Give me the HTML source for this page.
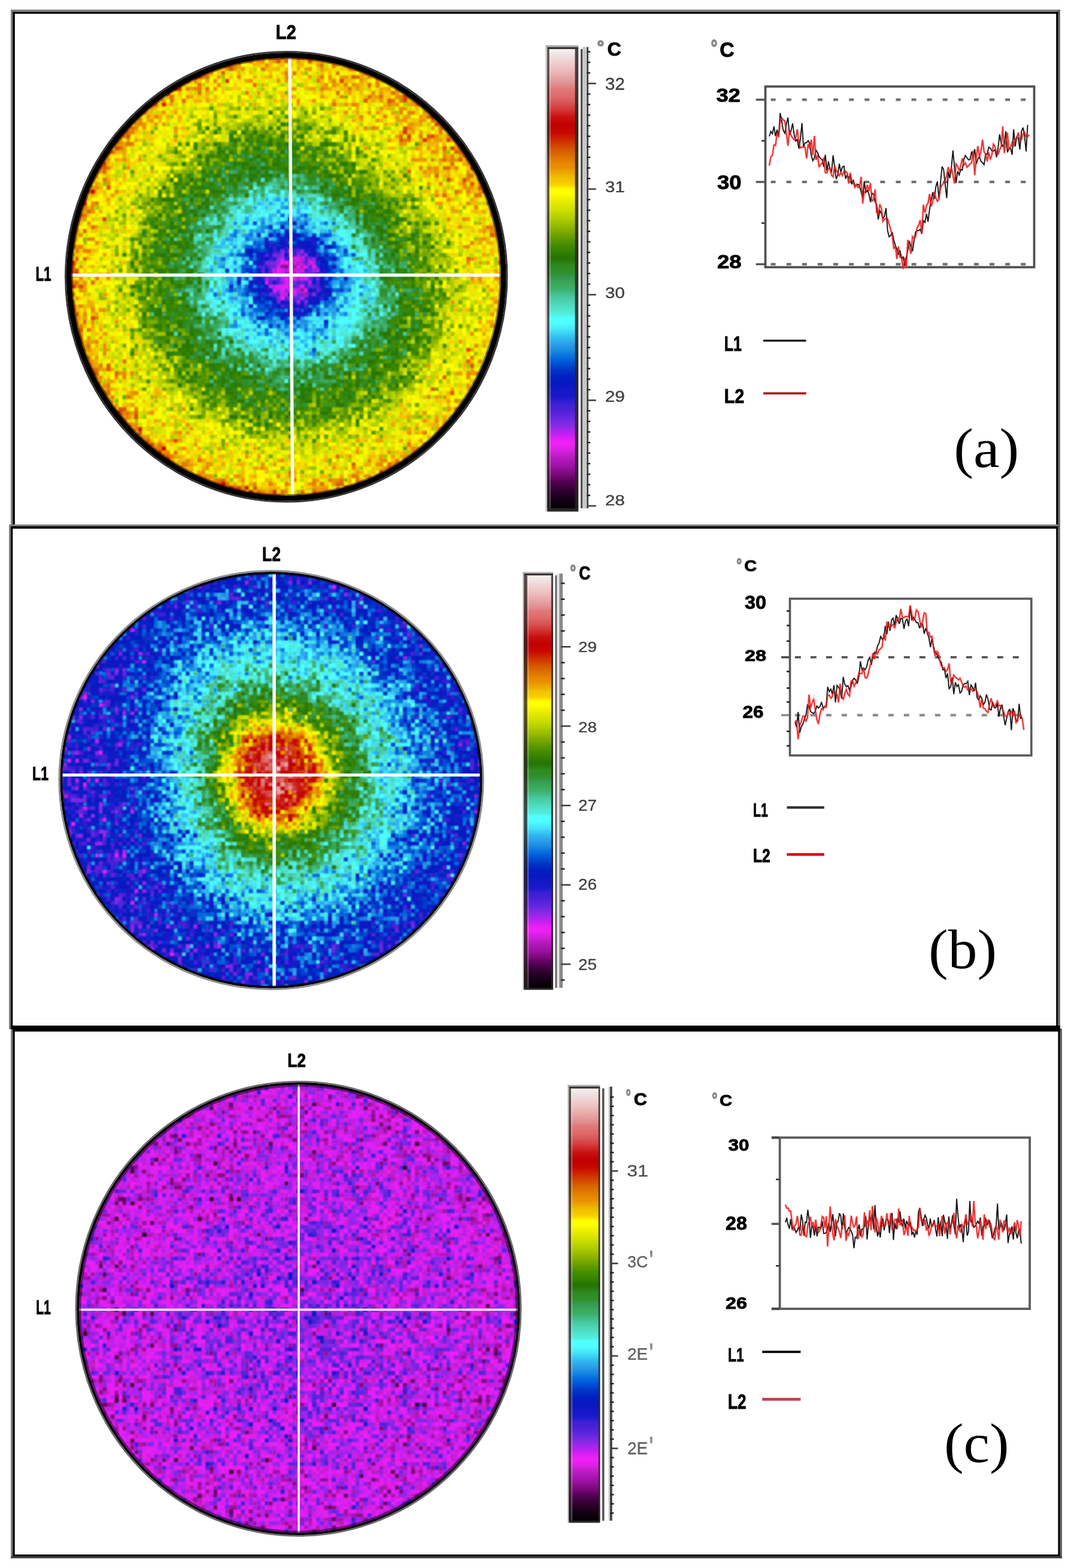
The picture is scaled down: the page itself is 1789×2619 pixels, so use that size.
<!DOCTYPE html>
<html><head><meta charset="utf-8"><title>Thermal profiles</title><style>
html,body{margin:0;padding:0;background:#fff;}
body{width:1789px;height:2619px;overflow:hidden;position:relative;}
svg{position:absolute;left:0;top:0;display:block;}
.s{font-family:"Liberation Sans",Arial,sans-serif;}
.b{font-family:"Liberation Sans",Arial,sans-serif;font-weight:bold;stroke:#000;stroke-width:0.9px;}
.g{stroke-width:1.6px;}
.s{stroke-width:0.35px;}
.r{font-family:"Liberation Serif","Times New Roman",serif;}
</style></head><body>
<svg width="1789" height="2619" viewBox="0 0 1789 2619">
<defs>
<radialGradient id="gA" gradientUnits="userSpaceOnUse" cx="486.5" cy="459.6" r="372.0"><stop offset="0.000" stop-color="rgb(32,0,0)"/><stop offset="0.060" stop-color="rgb(38,0,0)"/><stop offset="0.110" stop-color="rgb(51,0,0)"/><stop offset="0.170" stop-color="rgb(75,0,0)"/><stop offset="0.230" stop-color="rgb(89,0,0)"/><stop offset="0.300" stop-color="rgb(100,0,0)"/><stop offset="0.370" stop-color="rgb(110,0,0)"/><stop offset="0.420" stop-color="rgb(122,0,0)"/><stop offset="0.480" stop-color="rgb(132,0,0)"/><stop offset="0.550" stop-color="rgb(139,0,0)"/><stop offset="0.620" stop-color="rgb(145,0,0)"/><stop offset="0.680" stop-color="rgb(153,0,0)"/><stop offset="0.740" stop-color="rgb(164,0,0)"/><stop offset="0.820" stop-color="rgb(171,0,0)"/><stop offset="0.900" stop-color="rgb(176,0,0)"/><stop offset="0.950" stop-color="rgb(180,0,0)"/><stop offset="0.980" stop-color="rgb(189,0,0)"/><stop offset="1.000" stop-color="rgb(198,0,0)"/></radialGradient>
<radialGradient id="bA0" gradientUnits="userSpaceOnUse" cx="760.0" cy="170.0" r="330.0"><stop offset="0" stop-color="rgb(195,0,0)" stop-opacity="0.50"/><stop offset="0.5" stop-color="rgb(195,0,0)" stop-opacity="0.30"/><stop offset="1" stop-color="rgb(195,0,0)" stop-opacity="0"/></radialGradient>
<radialGradient id="cA" gradientUnits="userSpaceOnUse" cx="486.5" cy="459.6" r="372.0"><stop offset="0.000" stop-color="#d420dc"/><stop offset="0.060" stop-color="#e820f7"/><stop offset="0.110" stop-color="#6126de"/><stop offset="0.170" stop-color="#002ac3"/><stop offset="0.230" stop-color="#2494e6"/><stop offset="0.300" stop-color="#47e9fa"/><stop offset="0.370" stop-color="#50e4ce"/><stop offset="0.420" stop-color="#3cb071"/><stop offset="0.480" stop-color="#308f2b"/><stop offset="0.550" stop-color="#277300"/><stop offset="0.620" stop-color="#3f8900"/><stop offset="0.680" stop-color="#75a700"/><stop offset="0.740" stop-color="#c6da00"/><stop offset="0.820" stop-color="#eef100"/><stop offset="0.900" stop-color="#ffff00"/><stop offset="0.950" stop-color="#f7ce00"/><stop offset="0.980" stop-color="#e89100"/><stop offset="1.000" stop-color="#d76000"/></radialGradient>
<filter id="fA" x="106" y="83" width="744" height="758" filterUnits="userSpaceOnUse" color-interpolation-filters="sRGB"><feColorMatrix type="matrix" values="1 0.1622 0.1622 0 -0.1628 1 0.1622 0.1622 0 -0.1628 1 0.1622 0.1622 0 -0.1628 0 0 0 1 0" result="sum"/><feComponentTransfer in="sum"><feFuncR type="table" tableValues="0.000 0.042 0.071 0.103 0.147 0.191 0.249 0.307 0.378 0.451 0.516 0.577 0.626 0.670 0.721 0.780 0.841 0.909 0.932 0.890 0.803 0.716 0.629 0.545 0.473 0.403 0.360 0.316 0.272 0.229 0.160 0.094 0.094 0.065 0.036 0.019 0.005 0.000 0.000 0.000 0.000 0.010 0.031 0.075 0.120 0.159 0.174 0.189 0.225 0.261 0.285 0.307 0.314 0.314 0.314 0.314 0.308 0.298 0.287 0.270 0.248 0.233 0.229 0.218 0.203 0.189 0.184 0.181 0.167 0.152 0.169 0.199 0.237 0.280 0.336 0.396 0.458 0.517 0.575 0.629 0.680 0.730 0.781 0.830 0.873 0.917 0.958 1.000 1.000 0.984 0.964 0.947 0.934 0.923 0.912 0.910 0.893 0.871 0.848 0.837 0.827 0.815 0.804 0.793 0.781 0.766 0.754 0.769 0.783 0.805 0.827 0.847 0.847 0.861 0.878 0.878 0.878 0.878 0.888 0.902 0.915 0.926 0.935 0.939 0.941 0.941 0.955 0.973"/><feFuncG type="table" tableValues="0.000 0.000 0.000 0.000 0.000 0.000 0.000 0.000 0.013 0.027 0.043 0.058 0.073 0.087 0.102 0.116 0.125 0.125 0.125 0.125 0.125 0.132 0.146 0.157 0.157 0.155 0.141 0.126 0.125 0.125 0.110 0.094 0.094 0.094 0.094 0.106 0.121 0.155 0.199 0.252 0.313 0.375 0.437 0.504 0.559 0.606 0.664 0.722 0.795 0.868 0.926 0.983 1.000 0.980 0.928 0.895 0.862 0.830 0.798 0.759 0.715 0.682 0.663 0.624 0.594 0.565 0.553 0.542 0.500 0.456 0.478 0.510 0.532 0.556 0.587 0.619 0.652 0.688 0.724 0.761 0.797 0.830 0.859 0.885 0.907 0.931 0.966 1.000 1.000 0.890 0.799 0.764 0.708 0.642 0.576 0.541 0.500 0.455 0.410 0.349 0.285 0.217 0.150 0.083 0.028 0.013 0.002 0.031 0.061 0.125 0.192 0.259 0.321 0.372 0.414 0.443 0.474 0.541 0.593 0.637 0.680 0.724 0.765 0.800 0.835 0.871 0.906 0.941"/><feFuncB type="table" tableValues="0.000 0.042 0.071 0.103 0.147 0.191 0.249 0.307 0.378 0.451 0.527 0.604 0.658 0.701 0.753 0.811 0.873 0.940 0.963 0.964 0.950 0.935 0.920 0.906 0.891 0.877 0.862 0.848 0.840 0.833 0.816 0.798 0.784 0.770 0.755 0.753 0.753 0.763 0.777 0.800 0.831 0.857 0.878 0.878 0.891 0.912 0.927 0.941 0.956 0.970 0.983 0.996 1.000 0.960 0.858 0.809 0.757 0.704 0.650 0.577 0.490 0.407 0.331 0.364 0.273 0.183 0.154 0.127 0.071 0.012 0.000 0.000 0.000 0.000 0.000 0.000 0.000 0.000 0.000 0.000 0.000 0.000 0.000 0.000 0.000 0.000 0.000 0.000 0.000 0.000 0.000 0.000 0.000 0.000 0.000 0.000 0.000 0.000 0.000 0.000 0.000 0.000 0.000 0.000 0.000 0.000 0.002 0.031 0.061 0.125 0.192 0.259 0.321 0.372 0.414 0.443 0.474 0.541 0.593 0.637 0.680 0.724 0.765 0.800 0.835 0.871 0.906 0.941"/></feComponentTransfer><feGaussianBlur stdDeviation="1.2"/></filter>
<radialGradient id="gB" gradientUnits="userSpaceOnUse" cx="458.0" cy="1294.5" r="353.0"><stop offset="0.000" stop-color="rgb(228,0,0)"/><stop offset="0.080" stop-color="rgb(223,0,0)"/><stop offset="0.160" stop-color="rgb(206,0,0)"/><stop offset="0.200" stop-color="rgb(193,0,0)"/><stop offset="0.250" stop-color="rgb(172,0,0)"/><stop offset="0.300" stop-color="rgb(152,0,0)"/><stop offset="0.360" stop-color="rgb(137,0,0)"/><stop offset="0.440" stop-color="rgb(120,0,0)"/><stop offset="0.500" stop-color="rgb(110,0,0)"/><stop offset="0.570" stop-color="rgb(103,0,0)"/><stop offset="0.640" stop-color="rgb(94,0,0)"/><stop offset="0.720" stop-color="rgb(84,0,0)"/><stop offset="0.820" stop-color="rgb(76,0,0)"/><stop offset="0.900" stop-color="rgb(72,0,0)"/><stop offset="1.000" stop-color="rgb(68,0,0)"/></radialGradient>
<radialGradient id="bB0" gradientUnits="userSpaceOnUse" cx="110.0" cy="1330.0" r="320.0"><stop offset="0" stop-color="rgb(51,0,0)" stop-opacity="0.60"/><stop offset="0.5" stop-color="rgb(51,0,0)" stop-opacity="0.36"/><stop offset="1" stop-color="rgb(51,0,0)" stop-opacity="0"/></radialGradient>
<radialGradient id="bB1" gradientUnits="userSpaceOnUse" cx="250.0" cy="1620.0" r="220.0"><stop offset="0" stop-color="rgb(56,0,0)" stop-opacity="0.40"/><stop offset="0.5" stop-color="rgb(56,0,0)" stop-opacity="0.24"/><stop offset="1" stop-color="rgb(56,0,0)" stop-opacity="0"/></radialGradient>
<radialGradient id="cB" gradientUnits="userSpaceOnUse" cx="458.0" cy="1294.5" r="353.0"><stop offset="0.000" stop-color="#e06767"/><stop offset="0.080" stop-color="#d84747"/><stop offset="0.160" stop-color="#cb1a00"/><stop offset="0.200" stop-color="#e48100"/><stop offset="0.250" stop-color="#f0f300"/><stop offset="0.300" stop-color="#72a500"/><stop offset="0.360" stop-color="#297a0b"/><stop offset="0.440" stop-color="#40b87f"/><stop offset="0.500" stop-color="#50e4ce"/><stop offset="0.570" stop-color="#50ffff"/><stop offset="0.640" stop-color="#30b7f0"/><stop offset="0.720" stop-color="#0870e0"/><stop offset="0.820" stop-color="#0031c6"/><stop offset="0.900" stop-color="#021ec0"/><stop offset="1.000" stop-color="#0b18c2"/></radialGradient>
<filter id="fB" x="96" y="950" width="715" height="706" filterUnits="userSpaceOnUse" color-interpolation-filters="sRGB"><feColorMatrix type="matrix" values="1 0.2027 0.2027 0 -0.2035 1 0.2027 0.2027 0 -0.2035 1 0.2027 0.2027 0 -0.2035 0 0 0 1 0" result="sum"/><feComponentTransfer in="sum"><feFuncR type="table" tableValues="0.000 0.042 0.071 0.103 0.147 0.191 0.249 0.307 0.378 0.451 0.516 0.577 0.626 0.670 0.721 0.780 0.841 0.909 0.932 0.890 0.803 0.716 0.629 0.545 0.473 0.403 0.360 0.316 0.272 0.229 0.160 0.094 0.094 0.065 0.036 0.019 0.005 0.000 0.000 0.000 0.000 0.010 0.031 0.075 0.120 0.159 0.174 0.189 0.225 0.261 0.285 0.307 0.314 0.314 0.314 0.314 0.308 0.298 0.287 0.270 0.248 0.233 0.229 0.218 0.203 0.189 0.184 0.181 0.167 0.152 0.169 0.199 0.237 0.280 0.336 0.396 0.458 0.517 0.575 0.629 0.680 0.730 0.781 0.830 0.873 0.917 0.958 1.000 1.000 0.984 0.964 0.947 0.934 0.923 0.912 0.910 0.893 0.871 0.848 0.837 0.827 0.815 0.804 0.793 0.781 0.766 0.754 0.769 0.783 0.805 0.827 0.847 0.847 0.861 0.878 0.878 0.878 0.878 0.888 0.902 0.915 0.926 0.935 0.939 0.941 0.941 0.955 0.973"/><feFuncG type="table" tableValues="0.000 0.000 0.000 0.000 0.000 0.000 0.000 0.000 0.013 0.027 0.043 0.058 0.073 0.087 0.102 0.116 0.125 0.125 0.125 0.125 0.125 0.132 0.146 0.157 0.157 0.155 0.141 0.126 0.125 0.125 0.110 0.094 0.094 0.094 0.094 0.106 0.121 0.155 0.199 0.252 0.313 0.375 0.437 0.504 0.559 0.606 0.664 0.722 0.795 0.868 0.926 0.983 1.000 0.980 0.928 0.895 0.862 0.830 0.798 0.759 0.715 0.682 0.663 0.624 0.594 0.565 0.553 0.542 0.500 0.456 0.478 0.510 0.532 0.556 0.587 0.619 0.652 0.688 0.724 0.761 0.797 0.830 0.859 0.885 0.907 0.931 0.966 1.000 1.000 0.890 0.799 0.764 0.708 0.642 0.576 0.541 0.500 0.455 0.410 0.349 0.285 0.217 0.150 0.083 0.028 0.013 0.002 0.031 0.061 0.125 0.192 0.259 0.321 0.372 0.414 0.443 0.474 0.541 0.593 0.637 0.680 0.724 0.765 0.800 0.835 0.871 0.906 0.941"/><feFuncB type="table" tableValues="0.000 0.042 0.071 0.103 0.147 0.191 0.249 0.307 0.378 0.451 0.527 0.604 0.658 0.701 0.753 0.811 0.873 0.940 0.963 0.964 0.950 0.935 0.920 0.906 0.891 0.877 0.862 0.848 0.840 0.833 0.816 0.798 0.784 0.770 0.755 0.753 0.753 0.763 0.777 0.800 0.831 0.857 0.878 0.878 0.891 0.912 0.927 0.941 0.956 0.970 0.983 0.996 1.000 0.960 0.858 0.809 0.757 0.704 0.650 0.577 0.490 0.407 0.331 0.364 0.273 0.183 0.154 0.127 0.071 0.012 0.000 0.000 0.000 0.000 0.000 0.000 0.000 0.000 0.000 0.000 0.000 0.000 0.000 0.000 0.000 0.000 0.000 0.000 0.000 0.000 0.000 0.000 0.000 0.000 0.000 0.000 0.000 0.000 0.000 0.000 0.000 0.000 0.000 0.000 0.000 0.000 0.002 0.031 0.061 0.125 0.192 0.259 0.321 0.372 0.414 0.443 0.474 0.541 0.593 0.637 0.680 0.724 0.765 0.800 0.835 0.871 0.906 0.941"/></feComponentTransfer><feGaussianBlur stdDeviation="1.2"/></filter>
<radialGradient id="gC" gradientUnits="userSpaceOnUse" cx="499.0" cy="2187.5" r="376.0"><stop offset="0.000" stop-color="rgb(44,0,0)"/><stop offset="0.300" stop-color="rgb(43,0,0)"/><stop offset="0.550" stop-color="rgb(40,0,0)"/><stop offset="0.800" stop-color="rgb(37,0,0)"/><stop offset="1.000" stop-color="rgb(36,0,0)"/></radialGradient>
<radialGradient id="bC0" gradientUnits="userSpaceOnUse" cx="300.0" cy="1930.0" r="200.0"><stop offset="0" stop-color="rgb(32,0,0)" stop-opacity="0.40"/><stop offset="0.5" stop-color="rgb(32,0,0)" stop-opacity="0.24"/><stop offset="1" stop-color="rgb(32,0,0)" stop-opacity="0"/></radialGradient>
<radialGradient id="bC1" gradientUnits="userSpaceOnUse" cx="760.0" cy="2420.0" r="160.0"><stop offset="0" stop-color="rgb(33,0,0)" stop-opacity="0.30"/><stop offset="0.5" stop-color="rgb(33,0,0)" stop-opacity="0.18"/><stop offset="1" stop-color="rgb(33,0,0)" stop-opacity="0"/></radialGradient>
<radialGradient id="cC" gradientUnits="userSpaceOnUse" cx="499.0" cy="2187.5" r="376.0"><stop offset="0.000" stop-color="#9f26ea"/><stop offset="0.300" stop-color="#b122ee"/><stop offset="0.550" stop-color="#cf20f3"/><stop offset="0.800" stop-color="#ee20f8"/><stop offset="1.000" stop-color="#ee20f6"/></radialGradient>
<filter id="fC" x="124" y="1803" width="750" height="766" filterUnits="userSpaceOnUse" color-interpolation-filters="sRGB"><feColorMatrix type="matrix" values="1 0.1622 0.1622 0 -0.1628 1 0.1622 0.1622 0 -0.1628 1 0.1622 0.1622 0 -0.1628 0 0 0 1 0" result="sum"/><feComponentTransfer in="sum"><feFuncR type="table" tableValues="0.000 0.042 0.071 0.103 0.147 0.191 0.249 0.307 0.378 0.451 0.516 0.577 0.626 0.670 0.721 0.780 0.841 0.909 0.932 0.890 0.803 0.716 0.629 0.545 0.473 0.403 0.360 0.316 0.272 0.229 0.160 0.094 0.094 0.065 0.036 0.019 0.005 0.000 0.000 0.000 0.000 0.010 0.031 0.075 0.120 0.159 0.174 0.189 0.225 0.261 0.285 0.307 0.314 0.314 0.314 0.314 0.308 0.298 0.287 0.270 0.248 0.233 0.229 0.218 0.203 0.189 0.184 0.181 0.167 0.152 0.169 0.199 0.237 0.280 0.336 0.396 0.458 0.517 0.575 0.629 0.680 0.730 0.781 0.830 0.873 0.917 0.958 1.000 1.000 0.984 0.964 0.947 0.934 0.923 0.912 0.910 0.893 0.871 0.848 0.837 0.827 0.815 0.804 0.793 0.781 0.766 0.754 0.769 0.783 0.805 0.827 0.847 0.847 0.861 0.878 0.878 0.878 0.878 0.888 0.902 0.915 0.926 0.935 0.939 0.941 0.941 0.955 0.973"/><feFuncG type="table" tableValues="0.000 0.000 0.000 0.000 0.000 0.000 0.000 0.000 0.013 0.027 0.043 0.058 0.073 0.087 0.102 0.116 0.125 0.125 0.125 0.125 0.125 0.132 0.146 0.157 0.157 0.155 0.141 0.126 0.125 0.125 0.110 0.094 0.094 0.094 0.094 0.106 0.121 0.155 0.199 0.252 0.313 0.375 0.437 0.504 0.559 0.606 0.664 0.722 0.795 0.868 0.926 0.983 1.000 0.980 0.928 0.895 0.862 0.830 0.798 0.759 0.715 0.682 0.663 0.624 0.594 0.565 0.553 0.542 0.500 0.456 0.478 0.510 0.532 0.556 0.587 0.619 0.652 0.688 0.724 0.761 0.797 0.830 0.859 0.885 0.907 0.931 0.966 1.000 1.000 0.890 0.799 0.764 0.708 0.642 0.576 0.541 0.500 0.455 0.410 0.349 0.285 0.217 0.150 0.083 0.028 0.013 0.002 0.031 0.061 0.125 0.192 0.259 0.321 0.372 0.414 0.443 0.474 0.541 0.593 0.637 0.680 0.724 0.765 0.800 0.835 0.871 0.906 0.941"/><feFuncB type="table" tableValues="0.000 0.042 0.071 0.103 0.147 0.191 0.249 0.307 0.378 0.451 0.527 0.604 0.658 0.701 0.753 0.811 0.873 0.940 0.963 0.964 0.950 0.935 0.920 0.906 0.891 0.877 0.862 0.848 0.840 0.833 0.816 0.798 0.784 0.770 0.755 0.753 0.753 0.763 0.777 0.800 0.831 0.857 0.878 0.878 0.891 0.912 0.927 0.941 0.956 0.970 0.983 0.996 1.000 0.960 0.858 0.809 0.757 0.704 0.650 0.577 0.490 0.407 0.331 0.364 0.273 0.183 0.154 0.127 0.071 0.012 0.000 0.000 0.000 0.000 0.000 0.000 0.000 0.000 0.000 0.000 0.000 0.000 0.000 0.000 0.000 0.000 0.000 0.000 0.000 0.000 0.000 0.000 0.000 0.000 0.000 0.000 0.000 0.000 0.000 0.000 0.000 0.000 0.000 0.000 0.000 0.000 0.002 0.031 0.061 0.125 0.192 0.259 0.321 0.372 0.414 0.443 0.474 0.541 0.593 0.637 0.680 0.724 0.765 0.800 0.835 0.871 0.906 0.941"/></feComponentTransfer><feGaussianBlur stdDeviation="1.2"/></filter>
<pattern id="n1" width="151.8" height="151.8" patternUnits="userSpaceOnUse"><rect width="151.8" height="151.8" shape-rendering="crispEdges" fill="rgb(0,128,0)"/><path fill="rgb(0,28,0)" shape-rendering="crispEdges" d="M39.6,59.4h6.6v6.6h-6.6zM46.2,26.4h6.6v6.6h-6.6zM85.8,85.8h6.6v6.6h-6.6z"/><path fill="rgb(0,38,0)" shape-rendering="crispEdges" d="M52.8,33h6.6v6.6h-6.6zM66,125.4h6.6v6.6h-6.6zM79.2,26.4h6.6v6.6h-6.6zM99,66h6.6v6.6h-6.6zM138.6,92.4h6.6v6.6h-6.6z"/><path fill="rgb(0,48,0)" shape-rendering="crispEdges" d="M13.2,39.6h6.6v6.6h-6.6zM39.6,138.6h6.6v6.6h-6.6zM52.8,52.8h6.6v6.6h-6.6zM66,132h6.6v6.6h-6.6zM72.6,92.4h6.6v6.6h-6.6zM85.8,66h6.6v6.6h-6.6zM92.4,26.4h6.6v6.6h-6.6zM138.6,99h6.6v6.6h-6.6z"/><path fill="rgb(0,58,0)" shape-rendering="crispEdges" d="M13.2,138.6h6.6v6.6h-6.6zM19.8,0h6.6v6.6h-6.6zM46.2,145.2h6.6v6.6h-6.6zM66,33h6.6v6.6h-6.6zM66,138.6h6.6v6.6h-6.6zM79.2,39.6h6.6v6.6h-6.6zM85.8,39.6h6.6v6.6h-6.6zM85.8,105.6h6.6v6.6h-6.6zM105.6,112.2h6.6v6.6h-6.6zM118.8,66h6.6v6.6h-6.6zM138.6,6.6h6.6v6.6h-6.6z"/><path fill="rgb(0,68,0)" shape-rendering="crispEdges" d="M0,26.4h6.6v6.6h-6.6zM13.2,72.6h6.6v6.6h-6.6zM19.8,26.4h6.6v6.6h-6.6zM19.8,85.8h6.6v6.6h-6.6zM26.4,59.4h6.6v6.6h-6.6zM72.6,118.8h6.6v6.6h-6.6zM72.6,145.2h6.6v6.6h-6.6zM112.2,52.8h6.6v6.6h-6.6zM112.2,105.6h6.6v6.6h-6.6zM118.8,6.6h6.6v6.6h-6.6zM118.8,39.6h6.6v6.6h-6.6zM125.4,85.8h6.6v6.6h-6.6zM145.2,33h6.6v6.6h-6.6z"/><path fill="rgb(0,78,0)" shape-rendering="crispEdges" d="M6.6,26.4h6.6v6.6h-6.6zM6.6,59.4h6.6v6.6h-6.6zM26.4,52.8h6.6v6.6h-6.6zM26.4,66h6.6v6.6h-6.6zM26.4,105.6h6.6v6.6h-6.6zM26.4,118.8h6.6v6.6h-6.6zM33,66h6.6v6.6h-6.6zM46.2,132h6.6v6.6h-6.6zM52.8,59.4h6.6v6.6h-6.6zM52.8,66h6.6v6.6h-6.6zM52.8,118.8h6.6v6.6h-6.6zM66,99h6.6v6.6h-6.6zM79.2,19.8h6.6v6.6h-6.6zM85.8,79.2h6.6v6.6h-6.6zM85.8,132h6.6v6.6h-6.6zM92.4,6.6h6.6v6.6h-6.6zM105.6,59.4h6.6v6.6h-6.6zM112.2,19.8h6.6v6.6h-6.6zM125.4,26.4h6.6v6.6h-6.6zM125.4,138.6h6.6v6.6h-6.6zM132,72.6h6.6v6.6h-6.6zM132,118.8h6.6v6.6h-6.6zM145.2,6.6h6.6v6.6h-6.6zM145.2,85.8h6.6v6.6h-6.6z"/><path fill="rgb(0,88,0)" shape-rendering="crispEdges" d="M6.6,85.8h6.6v6.6h-6.6zM13.2,19.8h6.6v6.6h-6.6zM13.2,33h6.6v6.6h-6.6zM33,79.2h6.6v6.6h-6.6zM33,92.4h6.6v6.6h-6.6zM33,138.6h6.6v6.6h-6.6zM39.6,33h6.6v6.6h-6.6zM39.6,72.6h6.6v6.6h-6.6zM46.2,19.8h6.6v6.6h-6.6zM46.2,66h6.6v6.6h-6.6zM46.2,138.6h6.6v6.6h-6.6zM52.8,125.4h6.6v6.6h-6.6zM59.4,59.4h6.6v6.6h-6.6zM66,19.8h6.6v6.6h-6.6zM79.2,92.4h6.6v6.6h-6.6zM79.2,99h6.6v6.6h-6.6zM99,118.8h6.6v6.6h-6.6zM105.6,6.6h6.6v6.6h-6.6zM112.2,26.4h6.6v6.6h-6.6zM112.2,118.8h6.6v6.6h-6.6zM118.8,112.2h6.6v6.6h-6.6zM125.4,99h6.6v6.6h-6.6z"/><path fill="rgb(0,98,0)" shape-rendering="crispEdges" d="M0,105.6h6.6v6.6h-6.6zM0,118.8h6.6v6.6h-6.6zM0,145.2h6.6v6.6h-6.6zM6.6,19.8h6.6v6.6h-6.6zM6.6,39.6h6.6v6.6h-6.6zM6.6,46.2h6.6v6.6h-6.6zM13.2,26.4h6.6v6.6h-6.6zM13.2,52.8h6.6v6.6h-6.6zM13.2,112.2h6.6v6.6h-6.6zM19.8,39.6h6.6v6.6h-6.6zM26.4,85.8h6.6v6.6h-6.6zM33,46.2h6.6v6.6h-6.6zM33,59.4h6.6v6.6h-6.6zM33,85.8h6.6v6.6h-6.6zM33,112.2h6.6v6.6h-6.6zM33,132h6.6v6.6h-6.6zM39.6,46.2h6.6v6.6h-6.6zM39.6,105.6h6.6v6.6h-6.6zM46.2,39.6h6.6v6.6h-6.6zM52.8,39.6h6.6v6.6h-6.6zM52.8,85.8h6.6v6.6h-6.6zM59.4,92.4h6.6v6.6h-6.6zM59.4,132h6.6v6.6h-6.6zM66,92.4h6.6v6.6h-6.6zM66,112.2h6.6v6.6h-6.6zM72.6,26.4h6.6v6.6h-6.6zM79.2,85.8h6.6v6.6h-6.6zM85.8,26.4h6.6v6.6h-6.6zM92.4,13.2h6.6v6.6h-6.6zM92.4,33h6.6v6.6h-6.6zM99,85.8h6.6v6.6h-6.6zM99,99h6.6v6.6h-6.6zM105.6,105.6h6.6v6.6h-6.6zM105.6,145.2h6.6v6.6h-6.6zM112.2,13.2h6.6v6.6h-6.6zM112.2,92.4h6.6v6.6h-6.6zM118.8,79.2h6.6v6.6h-6.6zM125.4,6.6h6.6v6.6h-6.6zM125.4,92.4h6.6v6.6h-6.6zM125.4,118.8h6.6v6.6h-6.6zM132,145.2h6.6v6.6h-6.6zM138.6,118.8h6.6v6.6h-6.6zM145.2,19.8h6.6v6.6h-6.6zM145.2,79.2h6.6v6.6h-6.6zM145.2,99h6.6v6.6h-6.6zM145.2,132h6.6v6.6h-6.6z"/><path fill="rgb(0,108,0)" shape-rendering="crispEdges" d="M0,0h6.6v6.6h-6.6zM0,19.8h6.6v6.6h-6.6zM0,132h6.6v6.6h-6.6zM13.2,66h6.6v6.6h-6.6zM13.2,125.4h6.6v6.6h-6.6zM13.2,132h6.6v6.6h-6.6zM19.8,66h6.6v6.6h-6.6zM19.8,92.4h6.6v6.6h-6.6zM26.4,19.8h6.6v6.6h-6.6zM26.4,112.2h6.6v6.6h-6.6zM33,0h6.6v6.6h-6.6zM39.6,39.6h6.6v6.6h-6.6zM39.6,52.8h6.6v6.6h-6.6zM39.6,118.8h6.6v6.6h-6.6zM46.2,52.8h6.6v6.6h-6.6zM52.8,26.4h6.6v6.6h-6.6zM52.8,92.4h6.6v6.6h-6.6zM66,105.6h6.6v6.6h-6.6zM72.6,13.2h6.6v6.6h-6.6zM72.6,19.8h6.6v6.6h-6.6zM92.4,59.4h6.6v6.6h-6.6zM92.4,85.8h6.6v6.6h-6.6zM92.4,138.6h6.6v6.6h-6.6zM99,52.8h6.6v6.6h-6.6zM99,59.4h6.6v6.6h-6.6zM99,105.6h6.6v6.6h-6.6zM99,125.4h6.6v6.6h-6.6zM112.2,0h6.6v6.6h-6.6zM112.2,66h6.6v6.6h-6.6zM112.2,112.2h6.6v6.6h-6.6zM118.8,26.4h6.6v6.6h-6.6zM132,39.6h6.6v6.6h-6.6zM132,132h6.6v6.6h-6.6zM138.6,13.2h6.6v6.6h-6.6zM145.2,0h6.6v6.6h-6.6z"/><path fill="rgb(0,118,0)" shape-rendering="crispEdges" d="M0,6.6h6.6v6.6h-6.6zM0,52.8h6.6v6.6h-6.6zM6.6,92.4h6.6v6.6h-6.6zM13.2,13.2h6.6v6.6h-6.6zM19.8,52.8h6.6v6.6h-6.6zM19.8,72.6h6.6v6.6h-6.6zM19.8,99h6.6v6.6h-6.6zM19.8,112.2h6.6v6.6h-6.6zM26.4,92.4h6.6v6.6h-6.6zM26.4,132h6.6v6.6h-6.6zM33,72.6h6.6v6.6h-6.6zM39.6,85.8h6.6v6.6h-6.6zM39.6,125.4h6.6v6.6h-6.6zM46.2,6.6h6.6v6.6h-6.6zM46.2,59.4h6.6v6.6h-6.6zM46.2,125.4h6.6v6.6h-6.6zM52.8,0h6.6v6.6h-6.6zM59.4,19.8h6.6v6.6h-6.6zM59.4,105.6h6.6v6.6h-6.6zM72.6,0h6.6v6.6h-6.6zM72.6,6.6h6.6v6.6h-6.6zM72.6,39.6h6.6v6.6h-6.6zM72.6,125.4h6.6v6.6h-6.6zM72.6,138.6h6.6v6.6h-6.6zM79.2,0h6.6v6.6h-6.6zM79.2,72.6h6.6v6.6h-6.6zM79.2,79.2h6.6v6.6h-6.6zM79.2,132h6.6v6.6h-6.6zM85.8,92.4h6.6v6.6h-6.6zM85.8,118.8h6.6v6.6h-6.6zM92.4,0h6.6v6.6h-6.6zM92.4,19.8h6.6v6.6h-6.6zM92.4,46.2h6.6v6.6h-6.6zM92.4,105.6h6.6v6.6h-6.6zM99,0h6.6v6.6h-6.6zM99,138.6h6.6v6.6h-6.6zM105.6,33h6.6v6.6h-6.6zM105.6,85.8h6.6v6.6h-6.6zM112.2,85.8h6.6v6.6h-6.6zM118.8,118.8h6.6v6.6h-6.6zM125.4,39.6h6.6v6.6h-6.6zM125.4,52.8h6.6v6.6h-6.6zM125.4,72.6h6.6v6.6h-6.6zM132,33h6.6v6.6h-6.6zM132,46.2h6.6v6.6h-6.6zM132,66h6.6v6.6h-6.6zM132,79.2h6.6v6.6h-6.6zM138.6,0h6.6v6.6h-6.6zM138.6,72.6h6.6v6.6h-6.6zM138.6,132h6.6v6.6h-6.6zM145.2,13.2h6.6v6.6h-6.6zM145.2,59.4h6.6v6.6h-6.6z"/><path fill="rgb(0,138,0)" shape-rendering="crispEdges" d="M0,33h6.6v6.6h-6.6zM0,39.6h6.6v6.6h-6.6zM0,85.8h6.6v6.6h-6.6zM6.6,0h6.6v6.6h-6.6zM6.6,105.6h6.6v6.6h-6.6zM6.6,125.4h6.6v6.6h-6.6zM6.6,132h6.6v6.6h-6.6zM6.6,138.6h6.6v6.6h-6.6zM6.6,145.2h6.6v6.6h-6.6zM13.2,99h6.6v6.6h-6.6zM13.2,118.8h6.6v6.6h-6.6zM19.8,79.2h6.6v6.6h-6.6zM19.8,105.6h6.6v6.6h-6.6zM26.4,72.6h6.6v6.6h-6.6zM26.4,79.2h6.6v6.6h-6.6zM33,13.2h6.6v6.6h-6.6zM33,26.4h6.6v6.6h-6.6zM39.6,6.6h6.6v6.6h-6.6zM39.6,66h6.6v6.6h-6.6zM39.6,99h6.6v6.6h-6.6zM39.6,112.2h6.6v6.6h-6.6zM46.2,33h6.6v6.6h-6.6zM46.2,85.8h6.6v6.6h-6.6zM46.2,112.2h6.6v6.6h-6.6zM52.8,105.6h6.6v6.6h-6.6zM52.8,112.2h6.6v6.6h-6.6zM59.4,6.6h6.6v6.6h-6.6zM59.4,13.2h6.6v6.6h-6.6zM59.4,46.2h6.6v6.6h-6.6zM59.4,118.8h6.6v6.6h-6.6zM59.4,138.6h6.6v6.6h-6.6zM66,52.8h6.6v6.6h-6.6zM66,145.2h6.6v6.6h-6.6zM72.6,33h6.6v6.6h-6.6zM72.6,46.2h6.6v6.6h-6.6zM79.2,33h6.6v6.6h-6.6zM79.2,59.4h6.6v6.6h-6.6zM79.2,138.6h6.6v6.6h-6.6zM85.8,46.2h6.6v6.6h-6.6zM85.8,52.8h6.6v6.6h-6.6zM85.8,112.2h6.6v6.6h-6.6zM92.4,79.2h6.6v6.6h-6.6zM92.4,132h6.6v6.6h-6.6zM92.4,145.2h6.6v6.6h-6.6zM105.6,132h6.6v6.6h-6.6zM112.2,79.2h6.6v6.6h-6.6zM118.8,13.2h6.6v6.6h-6.6zM118.8,59.4h6.6v6.6h-6.6zM118.8,72.6h6.6v6.6h-6.6zM118.8,92.4h6.6v6.6h-6.6zM118.8,105.6h6.6v6.6h-6.6zM125.4,19.8h6.6v6.6h-6.6zM125.4,112.2h6.6v6.6h-6.6zM125.4,125.4h6.6v6.6h-6.6zM132,26.4h6.6v6.6h-6.6zM138.6,26.4h6.6v6.6h-6.6zM138.6,39.6h6.6v6.6h-6.6zM145.2,105.6h6.6v6.6h-6.6z"/><path fill="rgb(0,148,0)" shape-rendering="crispEdges" d="M0,66h6.6v6.6h-6.6zM0,79.2h6.6v6.6h-6.6zM0,138.6h6.6v6.6h-6.6zM13.2,79.2h6.6v6.6h-6.6zM19.8,6.6h6.6v6.6h-6.6zM19.8,13.2h6.6v6.6h-6.6zM19.8,19.8h6.6v6.6h-6.6zM19.8,46.2h6.6v6.6h-6.6zM33,19.8h6.6v6.6h-6.6zM33,145.2h6.6v6.6h-6.6zM46.2,0h6.6v6.6h-6.6zM46.2,99h6.6v6.6h-6.6zM46.2,105.6h6.6v6.6h-6.6zM46.2,118.8h6.6v6.6h-6.6zM52.8,13.2h6.6v6.6h-6.6zM59.4,145.2h6.6v6.6h-6.6zM66,0h6.6v6.6h-6.6zM66,72.6h6.6v6.6h-6.6zM66,118.8h6.6v6.6h-6.6zM72.6,99h6.6v6.6h-6.6zM72.6,112.2h6.6v6.6h-6.6zM79.2,125.4h6.6v6.6h-6.6zM85.8,59.4h6.6v6.6h-6.6zM92.4,112.2h6.6v6.6h-6.6zM92.4,118.8h6.6v6.6h-6.6zM99,33h6.6v6.6h-6.6zM99,39.6h6.6v6.6h-6.6zM99,46.2h6.6v6.6h-6.6zM105.6,79.2h6.6v6.6h-6.6zM105.6,138.6h6.6v6.6h-6.6zM112.2,33h6.6v6.6h-6.6zM112.2,138.6h6.6v6.6h-6.6zM118.8,46.2h6.6v6.6h-6.6zM118.8,132h6.6v6.6h-6.6zM125.4,33h6.6v6.6h-6.6zM125.4,59.4h6.6v6.6h-6.6zM125.4,105.6h6.6v6.6h-6.6zM132,99h6.6v6.6h-6.6zM138.6,19.8h6.6v6.6h-6.6zM138.6,105.6h6.6v6.6h-6.6zM138.6,112.2h6.6v6.6h-6.6zM145.2,66h6.6v6.6h-6.6zM145.2,125.4h6.6v6.6h-6.6zM145.2,138.6h6.6v6.6h-6.6zM145.2,145.2h6.6v6.6h-6.6z"/><path fill="rgb(0,158,0)" shape-rendering="crispEdges" d="M0,46.2h6.6v6.6h-6.6zM0,112.2h6.6v6.6h-6.6zM6.6,33h6.6v6.6h-6.6zM6.6,52.8h6.6v6.6h-6.6zM6.6,66h6.6v6.6h-6.6zM13.2,145.2h6.6v6.6h-6.6zM19.8,33h6.6v6.6h-6.6zM19.8,145.2h6.6v6.6h-6.6zM26.4,13.2h6.6v6.6h-6.6zM26.4,33h6.6v6.6h-6.6zM26.4,145.2h6.6v6.6h-6.6zM33,6.6h6.6v6.6h-6.6zM33,33h6.6v6.6h-6.6zM33,39.6h6.6v6.6h-6.6zM33,52.8h6.6v6.6h-6.6zM33,99h6.6v6.6h-6.6zM46.2,79.2h6.6v6.6h-6.6zM59.4,33h6.6v6.6h-6.6zM59.4,66h6.6v6.6h-6.6zM59.4,99h6.6v6.6h-6.6zM59.4,112.2h6.6v6.6h-6.6zM66,39.6h6.6v6.6h-6.6zM85.8,13.2h6.6v6.6h-6.6zM85.8,19.8h6.6v6.6h-6.6zM85.8,33h6.6v6.6h-6.6zM85.8,138.6h6.6v6.6h-6.6zM92.4,66h6.6v6.6h-6.6zM92.4,92.4h6.6v6.6h-6.6zM99,145.2h6.6v6.6h-6.6zM105.6,39.6h6.6v6.6h-6.6zM105.6,46.2h6.6v6.6h-6.6zM105.6,92.4h6.6v6.6h-6.6zM105.6,99h6.6v6.6h-6.6zM118.8,125.4h6.6v6.6h-6.6zM118.8,145.2h6.6v6.6h-6.6zM125.4,79.2h6.6v6.6h-6.6zM132,52.8h6.6v6.6h-6.6zM132,92.4h6.6v6.6h-6.6zM138.6,52.8h6.6v6.6h-6.6zM138.6,59.4h6.6v6.6h-6.6zM145.2,26.4h6.6v6.6h-6.6zM145.2,112.2h6.6v6.6h-6.6zM145.2,118.8h6.6v6.6h-6.6z"/><path fill="rgb(0,168,0)" shape-rendering="crispEdges" d="M0,99h6.6v6.6h-6.6zM6.6,72.6h6.6v6.6h-6.6zM13.2,0h6.6v6.6h-6.6zM13.2,92.4h6.6v6.6h-6.6zM33,105.6h6.6v6.6h-6.6zM39.6,19.8h6.6v6.6h-6.6zM39.6,92.4h6.6v6.6h-6.6zM52.8,19.8h6.6v6.6h-6.6zM52.8,79.2h6.6v6.6h-6.6zM52.8,145.2h6.6v6.6h-6.6zM59.4,125.4h6.6v6.6h-6.6zM66,6.6h6.6v6.6h-6.6zM66,79.2h6.6v6.6h-6.6zM66,85.8h6.6v6.6h-6.6zM79.2,6.6h6.6v6.6h-6.6zM79.2,46.2h6.6v6.6h-6.6zM85.8,0h6.6v6.6h-6.6zM85.8,6.6h6.6v6.6h-6.6zM85.8,72.6h6.6v6.6h-6.6zM92.4,72.6h6.6v6.6h-6.6zM92.4,99h6.6v6.6h-6.6zM92.4,125.4h6.6v6.6h-6.6zM99,19.8h6.6v6.6h-6.6zM105.6,72.6h6.6v6.6h-6.6zM112.2,72.6h6.6v6.6h-6.6zM112.2,125.4h6.6v6.6h-6.6zM112.2,145.2h6.6v6.6h-6.6zM118.8,33h6.6v6.6h-6.6zM118.8,85.8h6.6v6.6h-6.6zM125.4,66h6.6v6.6h-6.6zM132,6.6h6.6v6.6h-6.6zM132,112.2h6.6v6.6h-6.6zM132,125.4h6.6v6.6h-6.6zM132,138.6h6.6v6.6h-6.6zM138.6,46.2h6.6v6.6h-6.6zM138.6,66h6.6v6.6h-6.6zM138.6,85.8h6.6v6.6h-6.6zM138.6,138.6h6.6v6.6h-6.6zM145.2,39.6h6.6v6.6h-6.6z"/><path fill="rgb(0,178,0)" shape-rendering="crispEdges" d="M0,125.4h6.6v6.6h-6.6zM6.6,13.2h6.6v6.6h-6.6zM6.6,112.2h6.6v6.6h-6.6zM13.2,6.6h6.6v6.6h-6.6zM19.8,132h6.6v6.6h-6.6zM26.4,26.4h6.6v6.6h-6.6zM33,118.8h6.6v6.6h-6.6zM52.8,132h6.6v6.6h-6.6zM59.4,26.4h6.6v6.6h-6.6zM59.4,72.6h6.6v6.6h-6.6zM66,59.4h6.6v6.6h-6.6zM72.6,85.8h6.6v6.6h-6.6zM79.2,52.8h6.6v6.6h-6.6zM79.2,145.2h6.6v6.6h-6.6zM92.4,39.6h6.6v6.6h-6.6zM99,112.2h6.6v6.6h-6.6zM99,132h6.6v6.6h-6.6zM105.6,13.2h6.6v6.6h-6.6zM112.2,6.6h6.6v6.6h-6.6zM112.2,46.2h6.6v6.6h-6.6zM112.2,99h6.6v6.6h-6.6zM125.4,145.2h6.6v6.6h-6.6zM132,13.2h6.6v6.6h-6.6zM132,85.8h6.6v6.6h-6.6zM138.6,33h6.6v6.6h-6.6z"/><path fill="rgb(0,188,0)" shape-rendering="crispEdges" d="M0,59.4h6.6v6.6h-6.6zM0,92.4h6.6v6.6h-6.6zM6.6,6.6h6.6v6.6h-6.6zM6.6,99h6.6v6.6h-6.6zM26.4,99h6.6v6.6h-6.6zM26.4,138.6h6.6v6.6h-6.6zM39.6,145.2h6.6v6.6h-6.6zM46.2,13.2h6.6v6.6h-6.6zM59.4,52.8h6.6v6.6h-6.6zM59.4,79.2h6.6v6.6h-6.6zM59.4,85.8h6.6v6.6h-6.6zM66,46.2h6.6v6.6h-6.6zM72.6,105.6h6.6v6.6h-6.6zM79.2,105.6h6.6v6.6h-6.6zM99,13.2h6.6v6.6h-6.6zM99,92.4h6.6v6.6h-6.6zM105.6,52.8h6.6v6.6h-6.6zM112.2,132h6.6v6.6h-6.6zM118.8,52.8h6.6v6.6h-6.6zM132,105.6h6.6v6.6h-6.6zM138.6,145.2h6.6v6.6h-6.6z"/><path fill="rgb(0,198,0)" shape-rendering="crispEdges" d="M13.2,59.4h6.6v6.6h-6.6zM19.8,118.8h6.6v6.6h-6.6zM26.4,6.6h6.6v6.6h-6.6zM46.2,92.4h6.6v6.6h-6.6zM66,13.2h6.6v6.6h-6.6zM79.2,112.2h6.6v6.6h-6.6zM105.6,19.8h6.6v6.6h-6.6zM138.6,79.2h6.6v6.6h-6.6z"/><path fill="rgb(0,208,0)" shape-rendering="crispEdges" d="M13.2,105.6h6.6v6.6h-6.6zM19.8,59.4h6.6v6.6h-6.6zM19.8,125.4h6.6v6.6h-6.6zM26.4,125.4h6.6v6.6h-6.6zM52.8,72.6h6.6v6.6h-6.6zM66,66h6.6v6.6h-6.6zM72.6,72.6h6.6v6.6h-6.6zM72.6,79.2h6.6v6.6h-6.6zM99,79.2h6.6v6.6h-6.6zM112.2,39.6h6.6v6.6h-6.6zM118.8,19.8h6.6v6.6h-6.6zM118.8,138.6h6.6v6.6h-6.6zM145.2,92.4h6.6v6.6h-6.6z"/><path fill="rgb(0,218,0)" shape-rendering="crispEdges" d="M0,13.2h6.6v6.6h-6.6zM26.4,0h6.6v6.6h-6.6zM39.6,79.2h6.6v6.6h-6.6zM145.2,46.2h6.6v6.6h-6.6z"/><path fill="rgb(0,228,0)" shape-rendering="crispEdges" d="M0,72.6h6.6v6.6h-6.6zM39.6,13.2h6.6v6.6h-6.6zM72.6,132h6.6v6.6h-6.6zM105.6,0h6.6v6.6h-6.6zM125.4,0h6.6v6.6h-6.6zM132,19.8h6.6v6.6h-6.6zM138.6,125.4h6.6v6.6h-6.6z"/></pattern>
<pattern id="n2" width="191.4" height="191.4" patternUnits="userSpaceOnUse"><rect width="191.4" height="191.4" shape-rendering="crispEdges" fill="rgb(0,0,128)"/><path fill="rgb(0,0,28)" shape-rendering="crispEdges" d="M46.2,145.2h6.6v6.6h-6.6zM59.4,138.6h6.6v6.6h-6.6zM92.4,59.4h6.6v6.6h-6.6zM99,171.6h6.6v6.6h-6.6zM165,26.4h6.6v6.6h-6.6zM171.6,46.2h6.6v6.6h-6.6z"/><path fill="rgb(0,0,38)" shape-rendering="crispEdges" d="M0,33h6.6v6.6h-6.6zM13.2,39.6h6.6v6.6h-6.6zM13.2,85.8h6.6v6.6h-6.6zM66,184.8h6.6v6.6h-6.6zM99,33h6.6v6.6h-6.6zM118.8,46.2h6.6v6.6h-6.6zM125.4,118.8h6.6v6.6h-6.6zM138.6,6.6h6.6v6.6h-6.6zM138.6,118.8h6.6v6.6h-6.6z"/><path fill="rgb(0,0,48)" shape-rendering="crispEdges" d="M0,92.4h6.6v6.6h-6.6zM0,158.4h6.6v6.6h-6.6zM26.4,13.2h6.6v6.6h-6.6zM26.4,165h6.6v6.6h-6.6zM26.4,178.2h6.6v6.6h-6.6zM66,19.8h6.6v6.6h-6.6zM99,138.6h6.6v6.6h-6.6zM105.6,178.2h6.6v6.6h-6.6zM132,13.2h6.6v6.6h-6.6zM132,52.8h6.6v6.6h-6.6zM138.6,178.2h6.6v6.6h-6.6zM158.4,85.8h6.6v6.6h-6.6zM158.4,151.8h6.6v6.6h-6.6zM165,0h6.6v6.6h-6.6zM171.6,59.4h6.6v6.6h-6.6zM184.8,66h6.6v6.6h-6.6z"/><path fill="rgb(0,0,58)" shape-rendering="crispEdges" d="M0,39.6h6.6v6.6h-6.6zM26.4,92.4h6.6v6.6h-6.6zM33,33h6.6v6.6h-6.6zM33,145.2h6.6v6.6h-6.6zM46.2,72.6h6.6v6.6h-6.6zM52.8,59.4h6.6v6.6h-6.6zM59.4,85.8h6.6v6.6h-6.6zM85.8,13.2h6.6v6.6h-6.6zM92.4,0h6.6v6.6h-6.6zM92.4,52.8h6.6v6.6h-6.6zM99,99h6.6v6.6h-6.6zM112.2,52.8h6.6v6.6h-6.6zM125.4,105.6h6.6v6.6h-6.6zM165,6.6h6.6v6.6h-6.6zM165,105.6h6.6v6.6h-6.6zM171.6,19.8h6.6v6.6h-6.6zM171.6,26.4h6.6v6.6h-6.6zM171.6,112.2h6.6v6.6h-6.6z"/><path fill="rgb(0,0,68)" shape-rendering="crispEdges" d="M0,6.6h6.6v6.6h-6.6zM0,79.2h6.6v6.6h-6.6zM0,118.8h6.6v6.6h-6.6zM13.2,0h6.6v6.6h-6.6zM19.8,66h6.6v6.6h-6.6zM26.4,39.6h6.6v6.6h-6.6zM33,46.2h6.6v6.6h-6.6zM33,125.4h6.6v6.6h-6.6zM39.6,112.2h6.6v6.6h-6.6zM52.8,105.6h6.6v6.6h-6.6zM59.4,26.4h6.6v6.6h-6.6zM59.4,151.8h6.6v6.6h-6.6zM85.8,105.6h6.6v6.6h-6.6zM99,13.2h6.6v6.6h-6.6zM105.6,46.2h6.6v6.6h-6.6zM105.6,99h6.6v6.6h-6.6zM105.6,105.6h6.6v6.6h-6.6zM112.2,79.2h6.6v6.6h-6.6zM118.8,33h6.6v6.6h-6.6zM132,46.2h6.6v6.6h-6.6zM138.6,13.2h6.6v6.6h-6.6zM145.2,138.6h6.6v6.6h-6.6zM151.8,19.8h6.6v6.6h-6.6zM151.8,72.6h6.6v6.6h-6.6z"/><path fill="rgb(0,0,78)" shape-rendering="crispEdges" d="M0,26.4h6.6v6.6h-6.6zM0,85.8h6.6v6.6h-6.6zM6.6,0h6.6v6.6h-6.6zM6.6,151.8h6.6v6.6h-6.6zM19.8,105.6h6.6v6.6h-6.6zM19.8,151.8h6.6v6.6h-6.6zM33,66h6.6v6.6h-6.6zM33,92.4h6.6v6.6h-6.6zM39.6,118.8h6.6v6.6h-6.6zM39.6,132h6.6v6.6h-6.6zM39.6,165h6.6v6.6h-6.6zM39.6,178.2h6.6v6.6h-6.6zM46.2,39.6h6.6v6.6h-6.6zM52.8,145.2h6.6v6.6h-6.6zM59.4,125.4h6.6v6.6h-6.6zM66,6.6h6.6v6.6h-6.6zM72.6,66h6.6v6.6h-6.6zM72.6,125.4h6.6v6.6h-6.6zM72.6,145.2h6.6v6.6h-6.6zM79.2,138.6h6.6v6.6h-6.6zM85.8,165h6.6v6.6h-6.6zM85.8,184.8h6.6v6.6h-6.6zM92.4,13.2h6.6v6.6h-6.6zM92.4,105.6h6.6v6.6h-6.6zM92.4,138.6h6.6v6.6h-6.6zM92.4,151.8h6.6v6.6h-6.6zM92.4,171.6h6.6v6.6h-6.6zM99,59.4h6.6v6.6h-6.6zM99,112.2h6.6v6.6h-6.6zM105.6,66h6.6v6.6h-6.6zM112.2,6.6h6.6v6.6h-6.6zM112.2,118.8h6.6v6.6h-6.6zM112.2,145.2h6.6v6.6h-6.6zM118.8,138.6h6.6v6.6h-6.6zM118.8,184.8h6.6v6.6h-6.6zM132,19.8h6.6v6.6h-6.6zM138.6,19.8h6.6v6.6h-6.6zM151.8,178.2h6.6v6.6h-6.6zM158.4,66h6.6v6.6h-6.6zM158.4,105.6h6.6v6.6h-6.6zM165,46.2h6.6v6.6h-6.6zM171.6,178.2h6.6v6.6h-6.6zM184.8,184.8h6.6v6.6h-6.6z"/><path fill="rgb(0,0,88)" shape-rendering="crispEdges" d="M13.2,79.2h6.6v6.6h-6.6zM13.2,165h6.6v6.6h-6.6zM19.8,132h6.6v6.6h-6.6zM26.4,33h6.6v6.6h-6.6zM26.4,52.8h6.6v6.6h-6.6zM26.4,105.6h6.6v6.6h-6.6zM33,0h6.6v6.6h-6.6zM33,6.6h6.6v6.6h-6.6zM39.6,19.8h6.6v6.6h-6.6zM39.6,52.8h6.6v6.6h-6.6zM46.2,6.6h6.6v6.6h-6.6zM46.2,132h6.6v6.6h-6.6zM52.8,46.2h6.6v6.6h-6.6zM52.8,72.6h6.6v6.6h-6.6zM52.8,171.6h6.6v6.6h-6.6zM52.8,178.2h6.6v6.6h-6.6zM59.4,39.6h6.6v6.6h-6.6zM59.4,46.2h6.6v6.6h-6.6zM59.4,52.8h6.6v6.6h-6.6zM66,158.4h6.6v6.6h-6.6zM72.6,33h6.6v6.6h-6.6zM79.2,118.8h6.6v6.6h-6.6zM92.4,72.6h6.6v6.6h-6.6zM92.4,85.8h6.6v6.6h-6.6zM99,151.8h6.6v6.6h-6.6zM118.8,165h6.6v6.6h-6.6zM138.6,59.4h6.6v6.6h-6.6zM138.6,66h6.6v6.6h-6.6zM145.2,26.4h6.6v6.6h-6.6zM145.2,118.8h6.6v6.6h-6.6zM151.8,112.2h6.6v6.6h-6.6zM158.4,59.4h6.6v6.6h-6.6zM158.4,178.2h6.6v6.6h-6.6zM165,171.6h6.6v6.6h-6.6zM178.2,125.4h6.6v6.6h-6.6z"/><path fill="rgb(0,0,98)" shape-rendering="crispEdges" d="M6.6,66h6.6v6.6h-6.6zM6.6,178.2h6.6v6.6h-6.6zM13.2,33h6.6v6.6h-6.6zM13.2,158.4h6.6v6.6h-6.6zM19.8,59.4h6.6v6.6h-6.6zM19.8,118.8h6.6v6.6h-6.6zM26.4,118.8h6.6v6.6h-6.6zM26.4,171.6h6.6v6.6h-6.6zM33,138.6h6.6v6.6h-6.6zM39.6,79.2h6.6v6.6h-6.6zM39.6,99h6.6v6.6h-6.6zM39.6,151.8h6.6v6.6h-6.6zM46.2,0h6.6v6.6h-6.6zM46.2,85.8h6.6v6.6h-6.6zM46.2,112.2h6.6v6.6h-6.6zM46.2,171.6h6.6v6.6h-6.6zM52.8,79.2h6.6v6.6h-6.6zM66,92.4h6.6v6.6h-6.6zM66,138.6h6.6v6.6h-6.6zM72.6,0h6.6v6.6h-6.6zM72.6,132h6.6v6.6h-6.6zM79.2,6.6h6.6v6.6h-6.6zM79.2,19.8h6.6v6.6h-6.6zM79.2,66h6.6v6.6h-6.6zM79.2,72.6h6.6v6.6h-6.6zM79.2,158.4h6.6v6.6h-6.6zM79.2,178.2h6.6v6.6h-6.6zM85.8,125.4h6.6v6.6h-6.6zM92.4,92.4h6.6v6.6h-6.6zM99,66h6.6v6.6h-6.6zM99,79.2h6.6v6.6h-6.6zM105.6,6.6h6.6v6.6h-6.6zM105.6,59.4h6.6v6.6h-6.6zM105.6,132h6.6v6.6h-6.6zM112.2,138.6h6.6v6.6h-6.6zM112.2,151.8h6.6v6.6h-6.6zM118.8,19.8h6.6v6.6h-6.6zM118.8,99h6.6v6.6h-6.6zM118.8,112.2h6.6v6.6h-6.6zM125.4,99h6.6v6.6h-6.6zM125.4,132h6.6v6.6h-6.6zM125.4,151.8h6.6v6.6h-6.6zM125.4,165h6.6v6.6h-6.6zM125.4,184.8h6.6v6.6h-6.6zM132,33h6.6v6.6h-6.6zM132,85.8h6.6v6.6h-6.6zM138.6,158.4h6.6v6.6h-6.6zM138.6,184.8h6.6v6.6h-6.6zM145.2,79.2h6.6v6.6h-6.6zM145.2,99h6.6v6.6h-6.6zM145.2,105.6h6.6v6.6h-6.6zM145.2,151.8h6.6v6.6h-6.6zM151.8,6.6h6.6v6.6h-6.6zM151.8,46.2h6.6v6.6h-6.6zM158.4,125.4h6.6v6.6h-6.6zM165,112.2h6.6v6.6h-6.6zM171.6,52.8h6.6v6.6h-6.6zM171.6,118.8h6.6v6.6h-6.6zM171.6,158.4h6.6v6.6h-6.6zM178.2,13.2h6.6v6.6h-6.6zM178.2,26.4h6.6v6.6h-6.6zM178.2,46.2h6.6v6.6h-6.6zM178.2,99h6.6v6.6h-6.6zM178.2,165h6.6v6.6h-6.6zM184.8,0h6.6v6.6h-6.6zM184.8,19.8h6.6v6.6h-6.6zM184.8,52.8h6.6v6.6h-6.6zM184.8,79.2h6.6v6.6h-6.6zM184.8,99h6.6v6.6h-6.6zM184.8,171.6h6.6v6.6h-6.6z"/><path fill="rgb(0,0,108)" shape-rendering="crispEdges" d="M0,13.2h6.6v6.6h-6.6zM6.6,85.8h6.6v6.6h-6.6zM6.6,92.4h6.6v6.6h-6.6zM6.6,99h6.6v6.6h-6.6zM13.2,92.4h6.6v6.6h-6.6zM19.8,125.4h6.6v6.6h-6.6zM26.4,6.6h6.6v6.6h-6.6zM26.4,26.4h6.6v6.6h-6.6zM26.4,59.4h6.6v6.6h-6.6zM26.4,66h6.6v6.6h-6.6zM26.4,99h6.6v6.6h-6.6zM33,39.6h6.6v6.6h-6.6zM33,85.8h6.6v6.6h-6.6zM46.2,26.4h6.6v6.6h-6.6zM46.2,59.4h6.6v6.6h-6.6zM46.2,66h6.6v6.6h-6.6zM46.2,138.6h6.6v6.6h-6.6zM46.2,158.4h6.6v6.6h-6.6zM52.8,132h6.6v6.6h-6.6zM52.8,165h6.6v6.6h-6.6zM59.4,145.2h6.6v6.6h-6.6zM59.4,184.8h6.6v6.6h-6.6zM66,145.2h6.6v6.6h-6.6zM66,165h6.6v6.6h-6.6zM72.6,26.4h6.6v6.6h-6.6zM72.6,105.6h6.6v6.6h-6.6zM72.6,151.8h6.6v6.6h-6.6zM72.6,158.4h6.6v6.6h-6.6zM79.2,33h6.6v6.6h-6.6zM79.2,92.4h6.6v6.6h-6.6zM85.8,39.6h6.6v6.6h-6.6zM85.8,52.8h6.6v6.6h-6.6zM85.8,59.4h6.6v6.6h-6.6zM85.8,72.6h6.6v6.6h-6.6zM85.8,79.2h6.6v6.6h-6.6zM85.8,112.2h6.6v6.6h-6.6zM85.8,145.2h6.6v6.6h-6.6zM99,6.6h6.6v6.6h-6.6zM99,52.8h6.6v6.6h-6.6zM105.6,72.6h6.6v6.6h-6.6zM112.2,66h6.6v6.6h-6.6zM112.2,158.4h6.6v6.6h-6.6zM118.8,6.6h6.6v6.6h-6.6zM118.8,59.4h6.6v6.6h-6.6zM125.4,0h6.6v6.6h-6.6zM125.4,59.4h6.6v6.6h-6.6zM125.4,178.2h6.6v6.6h-6.6zM132,0h6.6v6.6h-6.6zM132,118.8h6.6v6.6h-6.6zM132,132h6.6v6.6h-6.6zM132,151.8h6.6v6.6h-6.6zM145.2,66h6.6v6.6h-6.6zM145.2,112.2h6.6v6.6h-6.6zM145.2,171.6h6.6v6.6h-6.6zM151.8,165h6.6v6.6h-6.6zM151.8,171.6h6.6v6.6h-6.6zM158.4,171.6h6.6v6.6h-6.6zM165,79.2h6.6v6.6h-6.6zM171.6,145.2h6.6v6.6h-6.6zM178.2,19.8h6.6v6.6h-6.6zM178.2,112.2h6.6v6.6h-6.6zM178.2,132h6.6v6.6h-6.6zM178.2,158.4h6.6v6.6h-6.6zM178.2,171.6h6.6v6.6h-6.6zM184.8,13.2h6.6v6.6h-6.6zM184.8,118.8h6.6v6.6h-6.6zM184.8,138.6h6.6v6.6h-6.6zM184.8,145.2h6.6v6.6h-6.6z"/><path fill="rgb(0,0,118)" shape-rendering="crispEdges" d="M0,99h6.6v6.6h-6.6zM0,105.6h6.6v6.6h-6.6zM0,138.6h6.6v6.6h-6.6zM6.6,13.2h6.6v6.6h-6.6zM6.6,39.6h6.6v6.6h-6.6zM6.6,125.4h6.6v6.6h-6.6zM6.6,158.4h6.6v6.6h-6.6zM6.6,165h6.6v6.6h-6.6zM6.6,184.8h6.6v6.6h-6.6zM13.2,13.2h6.6v6.6h-6.6zM13.2,112.2h6.6v6.6h-6.6zM13.2,171.6h6.6v6.6h-6.6zM13.2,178.2h6.6v6.6h-6.6zM19.8,39.6h6.6v6.6h-6.6zM19.8,138.6h6.6v6.6h-6.6zM19.8,145.2h6.6v6.6h-6.6zM26.4,125.4h6.6v6.6h-6.6zM26.4,138.6h6.6v6.6h-6.6zM26.4,145.2h6.6v6.6h-6.6zM33,151.8h6.6v6.6h-6.6zM33,171.6h6.6v6.6h-6.6zM39.6,85.8h6.6v6.6h-6.6zM39.6,92.4h6.6v6.6h-6.6zM46.2,33h6.6v6.6h-6.6zM46.2,46.2h6.6v6.6h-6.6zM46.2,105.6h6.6v6.6h-6.6zM46.2,118.8h6.6v6.6h-6.6zM52.8,66h6.6v6.6h-6.6zM52.8,125.4h6.6v6.6h-6.6zM52.8,151.8h6.6v6.6h-6.6zM59.4,59.4h6.6v6.6h-6.6zM59.4,132h6.6v6.6h-6.6zM59.4,171.6h6.6v6.6h-6.6zM66,39.6h6.6v6.6h-6.6zM66,59.4h6.6v6.6h-6.6zM66,112.2h6.6v6.6h-6.6zM66,132h6.6v6.6h-6.6zM72.6,138.6h6.6v6.6h-6.6zM79.2,46.2h6.6v6.6h-6.6zM79.2,59.4h6.6v6.6h-6.6zM79.2,105.6h6.6v6.6h-6.6zM79.2,112.2h6.6v6.6h-6.6zM79.2,145.2h6.6v6.6h-6.6zM85.8,19.8h6.6v6.6h-6.6zM85.8,33h6.6v6.6h-6.6zM85.8,66h6.6v6.6h-6.6zM85.8,132h6.6v6.6h-6.6zM85.8,138.6h6.6v6.6h-6.6zM85.8,178.2h6.6v6.6h-6.6zM92.4,19.8h6.6v6.6h-6.6zM92.4,79.2h6.6v6.6h-6.6zM92.4,178.2h6.6v6.6h-6.6zM99,72.6h6.6v6.6h-6.6zM105.6,52.8h6.6v6.6h-6.6zM105.6,79.2h6.6v6.6h-6.6zM105.6,112.2h6.6v6.6h-6.6zM105.6,125.4h6.6v6.6h-6.6zM112.2,13.2h6.6v6.6h-6.6zM112.2,33h6.6v6.6h-6.6zM112.2,46.2h6.6v6.6h-6.6zM118.8,39.6h6.6v6.6h-6.6zM118.8,151.8h6.6v6.6h-6.6zM125.4,19.8h6.6v6.6h-6.6zM125.4,79.2h6.6v6.6h-6.6zM132,105.6h6.6v6.6h-6.6zM132,138.6h6.6v6.6h-6.6zM132,158.4h6.6v6.6h-6.6zM132,178.2h6.6v6.6h-6.6zM132,184.8h6.6v6.6h-6.6zM138.6,26.4h6.6v6.6h-6.6zM138.6,105.6h6.6v6.6h-6.6zM138.6,112.2h6.6v6.6h-6.6zM145.2,39.6h6.6v6.6h-6.6zM145.2,92.4h6.6v6.6h-6.6zM145.2,132h6.6v6.6h-6.6zM145.2,145.2h6.6v6.6h-6.6zM151.8,66h6.6v6.6h-6.6zM158.4,39.6h6.6v6.6h-6.6zM158.4,99h6.6v6.6h-6.6zM158.4,118.8h6.6v6.6h-6.6zM158.4,165h6.6v6.6h-6.6zM165,13.2h6.6v6.6h-6.6zM165,39.6h6.6v6.6h-6.6zM165,66h6.6v6.6h-6.6zM165,118.8h6.6v6.6h-6.6zM165,178.2h6.6v6.6h-6.6zM171.6,66h6.6v6.6h-6.6zM178.2,0h6.6v6.6h-6.6zM178.2,6.6h6.6v6.6h-6.6zM178.2,59.4h6.6v6.6h-6.6zM184.8,46.2h6.6v6.6h-6.6z"/><path fill="rgb(0,0,138)" shape-rendering="crispEdges" d="M0,0h6.6v6.6h-6.6zM0,19.8h6.6v6.6h-6.6zM0,59.4h6.6v6.6h-6.6zM0,66h6.6v6.6h-6.6zM0,125.4h6.6v6.6h-6.6zM0,165h6.6v6.6h-6.6zM0,178.2h6.6v6.6h-6.6zM6.6,59.4h6.6v6.6h-6.6zM6.6,132h6.6v6.6h-6.6zM6.6,138.6h6.6v6.6h-6.6zM13.2,132h6.6v6.6h-6.6zM13.2,138.6h6.6v6.6h-6.6zM19.8,13.2h6.6v6.6h-6.6zM19.8,72.6h6.6v6.6h-6.6zM19.8,92.4h6.6v6.6h-6.6zM19.8,112.2h6.6v6.6h-6.6zM19.8,165h6.6v6.6h-6.6zM19.8,184.8h6.6v6.6h-6.6zM26.4,112.2h6.6v6.6h-6.6zM26.4,184.8h6.6v6.6h-6.6zM33,72.6h6.6v6.6h-6.6zM33,99h6.6v6.6h-6.6zM39.6,26.4h6.6v6.6h-6.6zM39.6,33h6.6v6.6h-6.6zM46.2,151.8h6.6v6.6h-6.6zM46.2,178.2h6.6v6.6h-6.6zM46.2,184.8h6.6v6.6h-6.6zM52.8,26.4h6.6v6.6h-6.6zM52.8,99h6.6v6.6h-6.6zM52.8,158.4h6.6v6.6h-6.6zM59.4,99h6.6v6.6h-6.6zM59.4,112.2h6.6v6.6h-6.6zM59.4,118.8h6.6v6.6h-6.6zM59.4,158.4h6.6v6.6h-6.6zM59.4,165h6.6v6.6h-6.6zM66,46.2h6.6v6.6h-6.6zM66,66h6.6v6.6h-6.6zM66,105.6h6.6v6.6h-6.6zM66,151.8h6.6v6.6h-6.6zM79.2,125.4h6.6v6.6h-6.6zM79.2,165h6.6v6.6h-6.6zM92.4,26.4h6.6v6.6h-6.6zM99,85.8h6.6v6.6h-6.6zM112.2,0h6.6v6.6h-6.6zM112.2,39.6h6.6v6.6h-6.6zM112.2,85.8h6.6v6.6h-6.6zM118.8,118.8h6.6v6.6h-6.6zM118.8,125.4h6.6v6.6h-6.6zM125.4,26.4h6.6v6.6h-6.6zM125.4,39.6h6.6v6.6h-6.6zM125.4,145.2h6.6v6.6h-6.6zM125.4,158.4h6.6v6.6h-6.6zM125.4,171.6h6.6v6.6h-6.6zM132,26.4h6.6v6.6h-6.6zM132,66h6.6v6.6h-6.6zM132,72.6h6.6v6.6h-6.6zM132,171.6h6.6v6.6h-6.6zM138.6,125.4h6.6v6.6h-6.6zM138.6,171.6h6.6v6.6h-6.6zM145.2,6.6h6.6v6.6h-6.6zM145.2,13.2h6.6v6.6h-6.6zM145.2,52.8h6.6v6.6h-6.6zM145.2,85.8h6.6v6.6h-6.6zM145.2,184.8h6.6v6.6h-6.6zM151.8,0h6.6v6.6h-6.6zM151.8,52.8h6.6v6.6h-6.6zM151.8,105.6h6.6v6.6h-6.6zM158.4,13.2h6.6v6.6h-6.6zM158.4,26.4h6.6v6.6h-6.6zM158.4,46.2h6.6v6.6h-6.6zM171.6,72.6h6.6v6.6h-6.6zM171.6,125.4h6.6v6.6h-6.6zM171.6,151.8h6.6v6.6h-6.6zM171.6,165h6.6v6.6h-6.6zM178.2,92.4h6.6v6.6h-6.6zM178.2,178.2h6.6v6.6h-6.6zM184.8,6.6h6.6v6.6h-6.6zM184.8,33h6.6v6.6h-6.6zM184.8,85.8h6.6v6.6h-6.6zM184.8,112.2h6.6v6.6h-6.6zM184.8,151.8h6.6v6.6h-6.6z"/><path fill="rgb(0,0,148)" shape-rendering="crispEdges" d="M0,112.2h6.6v6.6h-6.6zM6.6,26.4h6.6v6.6h-6.6zM6.6,33h6.6v6.6h-6.6zM6.6,46.2h6.6v6.6h-6.6zM6.6,52.8h6.6v6.6h-6.6zM6.6,171.6h6.6v6.6h-6.6zM13.2,105.6h6.6v6.6h-6.6zM13.2,118.8h6.6v6.6h-6.6zM19.8,26.4h6.6v6.6h-6.6zM19.8,158.4h6.6v6.6h-6.6zM26.4,72.6h6.6v6.6h-6.6zM26.4,79.2h6.6v6.6h-6.6zM33,13.2h6.6v6.6h-6.6zM33,26.4h6.6v6.6h-6.6zM33,105.6h6.6v6.6h-6.6zM33,132h6.6v6.6h-6.6zM33,165h6.6v6.6h-6.6zM39.6,46.2h6.6v6.6h-6.6zM39.6,66h6.6v6.6h-6.6zM39.6,72.6h6.6v6.6h-6.6zM46.2,52.8h6.6v6.6h-6.6zM46.2,79.2h6.6v6.6h-6.6zM52.8,39.6h6.6v6.6h-6.6zM52.8,52.8h6.6v6.6h-6.6zM52.8,184.8h6.6v6.6h-6.6zM59.4,72.6h6.6v6.6h-6.6zM66,13.2h6.6v6.6h-6.6zM66,26.4h6.6v6.6h-6.6zM66,52.8h6.6v6.6h-6.6zM72.6,46.2h6.6v6.6h-6.6zM72.6,59.4h6.6v6.6h-6.6zM72.6,85.8h6.6v6.6h-6.6zM72.6,118.8h6.6v6.6h-6.6zM72.6,171.6h6.6v6.6h-6.6zM72.6,178.2h6.6v6.6h-6.6zM79.2,0h6.6v6.6h-6.6zM85.8,151.8h6.6v6.6h-6.6zM92.4,46.2h6.6v6.6h-6.6zM92.4,118.8h6.6v6.6h-6.6zM99,46.2h6.6v6.6h-6.6zM99,125.4h6.6v6.6h-6.6zM99,165h6.6v6.6h-6.6zM99,184.8h6.6v6.6h-6.6zM105.6,26.4h6.6v6.6h-6.6zM105.6,39.6h6.6v6.6h-6.6zM105.6,138.6h6.6v6.6h-6.6zM112.2,19.8h6.6v6.6h-6.6zM112.2,72.6h6.6v6.6h-6.6zM112.2,99h6.6v6.6h-6.6zM112.2,112.2h6.6v6.6h-6.6zM112.2,125.4h6.6v6.6h-6.6zM112.2,165h6.6v6.6h-6.6zM118.8,79.2h6.6v6.6h-6.6zM118.8,85.8h6.6v6.6h-6.6zM118.8,92.4h6.6v6.6h-6.6zM118.8,171.6h6.6v6.6h-6.6zM118.8,178.2h6.6v6.6h-6.6zM125.4,13.2h6.6v6.6h-6.6zM132,79.2h6.6v6.6h-6.6zM132,112.2h6.6v6.6h-6.6zM138.6,39.6h6.6v6.6h-6.6zM138.6,46.2h6.6v6.6h-6.6zM138.6,52.8h6.6v6.6h-6.6zM138.6,72.6h6.6v6.6h-6.6zM138.6,79.2h6.6v6.6h-6.6zM138.6,151.8h6.6v6.6h-6.6zM145.2,19.8h6.6v6.6h-6.6zM145.2,46.2h6.6v6.6h-6.6zM145.2,165h6.6v6.6h-6.6zM151.8,33h6.6v6.6h-6.6zM151.8,118.8h6.6v6.6h-6.6zM151.8,184.8h6.6v6.6h-6.6zM158.4,52.8h6.6v6.6h-6.6zM158.4,92.4h6.6v6.6h-6.6zM165,125.4h6.6v6.6h-6.6zM165,151.8h6.6v6.6h-6.6zM171.6,0h6.6v6.6h-6.6zM171.6,79.2h6.6v6.6h-6.6zM171.6,132h6.6v6.6h-6.6zM178.2,105.6h6.6v6.6h-6.6zM178.2,138.6h6.6v6.6h-6.6zM178.2,151.8h6.6v6.6h-6.6zM184.8,92.4h6.6v6.6h-6.6zM184.8,178.2h6.6v6.6h-6.6z"/><path fill="rgb(0,0,158)" shape-rendering="crispEdges" d="M0,46.2h6.6v6.6h-6.6zM0,151.8h6.6v6.6h-6.6zM6.6,72.6h6.6v6.6h-6.6zM6.6,112.2h6.6v6.6h-6.6zM19.8,0h6.6v6.6h-6.6zM19.8,46.2h6.6v6.6h-6.6zM33,112.2h6.6v6.6h-6.6zM33,158.4h6.6v6.6h-6.6zM39.6,0h6.6v6.6h-6.6zM39.6,125.4h6.6v6.6h-6.6zM39.6,158.4h6.6v6.6h-6.6zM46.2,92.4h6.6v6.6h-6.6zM59.4,33h6.6v6.6h-6.6zM59.4,79.2h6.6v6.6h-6.6zM72.6,13.2h6.6v6.6h-6.6zM72.6,52.8h6.6v6.6h-6.6zM79.2,13.2h6.6v6.6h-6.6zM79.2,79.2h6.6v6.6h-6.6zM79.2,184.8h6.6v6.6h-6.6zM85.8,92.4h6.6v6.6h-6.6zM85.8,118.8h6.6v6.6h-6.6zM85.8,158.4h6.6v6.6h-6.6zM92.4,6.6h6.6v6.6h-6.6zM92.4,66h6.6v6.6h-6.6zM92.4,132h6.6v6.6h-6.6zM92.4,158.4h6.6v6.6h-6.6zM99,92.4h6.6v6.6h-6.6zM99,118.8h6.6v6.6h-6.6zM99,178.2h6.6v6.6h-6.6zM105.6,0h6.6v6.6h-6.6zM105.6,13.2h6.6v6.6h-6.6zM105.6,151.8h6.6v6.6h-6.6zM105.6,171.6h6.6v6.6h-6.6zM112.2,92.4h6.6v6.6h-6.6zM118.8,66h6.6v6.6h-6.6zM125.4,92.4h6.6v6.6h-6.6zM125.4,138.6h6.6v6.6h-6.6zM132,59.4h6.6v6.6h-6.6zM132,92.4h6.6v6.6h-6.6zM132,125.4h6.6v6.6h-6.6zM138.6,0h6.6v6.6h-6.6zM138.6,138.6h6.6v6.6h-6.6zM138.6,165h6.6v6.6h-6.6zM145.2,0h6.6v6.6h-6.6zM151.8,13.2h6.6v6.6h-6.6zM151.8,138.6h6.6v6.6h-6.6zM158.4,132h6.6v6.6h-6.6zM158.4,184.8h6.6v6.6h-6.6zM165,59.4h6.6v6.6h-6.6zM165,92.4h6.6v6.6h-6.6zM165,132h6.6v6.6h-6.6zM165,165h6.6v6.6h-6.6zM171.6,39.6h6.6v6.6h-6.6zM178.2,52.8h6.6v6.6h-6.6zM178.2,72.6h6.6v6.6h-6.6zM178.2,145.2h6.6v6.6h-6.6zM184.8,26.4h6.6v6.6h-6.6zM184.8,39.6h6.6v6.6h-6.6z"/><path fill="rgb(0,0,168)" shape-rendering="crispEdges" d="M0,72.6h6.6v6.6h-6.6zM6.6,145.2h6.6v6.6h-6.6zM13.2,66h6.6v6.6h-6.6zM13.2,145.2h6.6v6.6h-6.6zM13.2,184.8h6.6v6.6h-6.6zM19.8,79.2h6.6v6.6h-6.6zM19.8,178.2h6.6v6.6h-6.6zM26.4,151.8h6.6v6.6h-6.6zM33,178.2h6.6v6.6h-6.6zM39.6,59.4h6.6v6.6h-6.6zM39.6,171.6h6.6v6.6h-6.6zM39.6,184.8h6.6v6.6h-6.6zM46.2,19.8h6.6v6.6h-6.6zM52.8,138.6h6.6v6.6h-6.6zM59.4,6.6h6.6v6.6h-6.6zM59.4,13.2h6.6v6.6h-6.6zM59.4,66h6.6v6.6h-6.6zM59.4,105.6h6.6v6.6h-6.6zM66,99h6.6v6.6h-6.6zM66,125.4h6.6v6.6h-6.6zM79.2,85.8h6.6v6.6h-6.6zM79.2,99h6.6v6.6h-6.6zM79.2,151.8h6.6v6.6h-6.6zM85.8,6.6h6.6v6.6h-6.6zM92.4,112.2h6.6v6.6h-6.6zM92.4,165h6.6v6.6h-6.6zM92.4,184.8h6.6v6.6h-6.6zM105.6,184.8h6.6v6.6h-6.6zM112.2,26.4h6.6v6.6h-6.6zM112.2,184.8h6.6v6.6h-6.6zM118.8,26.4h6.6v6.6h-6.6zM125.4,6.6h6.6v6.6h-6.6zM125.4,33h6.6v6.6h-6.6zM125.4,72.6h6.6v6.6h-6.6zM125.4,112.2h6.6v6.6h-6.6zM132,165h6.6v6.6h-6.6zM138.6,92.4h6.6v6.6h-6.6zM138.6,99h6.6v6.6h-6.6zM151.8,26.4h6.6v6.6h-6.6zM151.8,59.4h6.6v6.6h-6.6zM151.8,85.8h6.6v6.6h-6.6zM151.8,92.4h6.6v6.6h-6.6zM151.8,99h6.6v6.6h-6.6zM151.8,132h6.6v6.6h-6.6zM151.8,158.4h6.6v6.6h-6.6zM158.4,0h6.6v6.6h-6.6zM158.4,19.8h6.6v6.6h-6.6zM158.4,72.6h6.6v6.6h-6.6zM158.4,138.6h6.6v6.6h-6.6zM165,19.8h6.6v6.6h-6.6zM165,33h6.6v6.6h-6.6zM165,145.2h6.6v6.6h-6.6zM171.6,13.2h6.6v6.6h-6.6zM171.6,33h6.6v6.6h-6.6zM171.6,92.4h6.6v6.6h-6.6zM178.2,33h6.6v6.6h-6.6zM178.2,66h6.6v6.6h-6.6zM184.8,59.4h6.6v6.6h-6.6zM184.8,158.4h6.6v6.6h-6.6z"/><path fill="rgb(0,0,178)" shape-rendering="crispEdges" d="M0,52.8h6.6v6.6h-6.6zM13.2,59.4h6.6v6.6h-6.6zM13.2,125.4h6.6v6.6h-6.6zM19.8,19.8h6.6v6.6h-6.6zM19.8,33h6.6v6.6h-6.6zM19.8,85.8h6.6v6.6h-6.6zM19.8,171.6h6.6v6.6h-6.6zM26.4,0h6.6v6.6h-6.6zM26.4,85.8h6.6v6.6h-6.6zM26.4,158.4h6.6v6.6h-6.6zM33,19.8h6.6v6.6h-6.6zM39.6,39.6h6.6v6.6h-6.6zM46.2,13.2h6.6v6.6h-6.6zM46.2,99h6.6v6.6h-6.6zM46.2,165h6.6v6.6h-6.6zM52.8,6.6h6.6v6.6h-6.6zM59.4,19.8h6.6v6.6h-6.6zM66,0h6.6v6.6h-6.6zM66,85.8h6.6v6.6h-6.6zM72.6,79.2h6.6v6.6h-6.6zM99,39.6h6.6v6.6h-6.6zM99,158.4h6.6v6.6h-6.6zM105.6,118.8h6.6v6.6h-6.6zM105.6,158.4h6.6v6.6h-6.6zM112.2,105.6h6.6v6.6h-6.6zM118.8,145.2h6.6v6.6h-6.6zM125.4,66h6.6v6.6h-6.6zM132,39.6h6.6v6.6h-6.6zM132,145.2h6.6v6.6h-6.6zM145.2,125.4h6.6v6.6h-6.6zM145.2,178.2h6.6v6.6h-6.6zM151.8,145.2h6.6v6.6h-6.6zM158.4,79.2h6.6v6.6h-6.6zM165,72.6h6.6v6.6h-6.6zM178.2,79.2h6.6v6.6h-6.6zM178.2,184.8h6.6v6.6h-6.6z"/><path fill="rgb(0,0,188)" shape-rendering="crispEdges" d="M0,184.8h6.6v6.6h-6.6zM13.2,99h6.6v6.6h-6.6zM26.4,46.2h6.6v6.6h-6.6zM26.4,132h6.6v6.6h-6.6zM52.8,112.2h6.6v6.6h-6.6zM66,72.6h6.6v6.6h-6.6zM66,79.2h6.6v6.6h-6.6zM79.2,26.4h6.6v6.6h-6.6zM92.4,33h6.6v6.6h-6.6zM99,26.4h6.6v6.6h-6.6zM99,145.2h6.6v6.6h-6.6zM105.6,19.8h6.6v6.6h-6.6zM105.6,33h6.6v6.6h-6.6zM112.2,59.4h6.6v6.6h-6.6zM112.2,171.6h6.6v6.6h-6.6zM118.8,132h6.6v6.6h-6.6zM132,99h6.6v6.6h-6.6zM138.6,33h6.6v6.6h-6.6zM138.6,145.2h6.6v6.6h-6.6zM145.2,33h6.6v6.6h-6.6zM151.8,39.6h6.6v6.6h-6.6zM151.8,151.8h6.6v6.6h-6.6zM165,52.8h6.6v6.6h-6.6zM165,158.4h6.6v6.6h-6.6zM171.6,184.8h6.6v6.6h-6.6zM178.2,39.6h6.6v6.6h-6.6zM184.8,132h6.6v6.6h-6.6z"/><path fill="rgb(0,0,198)" shape-rendering="crispEdges" d="M13.2,46.2h6.6v6.6h-6.6zM13.2,52.8h6.6v6.6h-6.6zM13.2,72.6h6.6v6.6h-6.6zM39.6,138.6h6.6v6.6h-6.6zM59.4,92.4h6.6v6.6h-6.6zM79.2,171.6h6.6v6.6h-6.6zM85.8,0h6.6v6.6h-6.6zM85.8,85.8h6.6v6.6h-6.6zM92.4,39.6h6.6v6.6h-6.6zM105.6,85.8h6.6v6.6h-6.6zM105.6,92.4h6.6v6.6h-6.6zM105.6,145.2h6.6v6.6h-6.6zM118.8,52.8h6.6v6.6h-6.6zM118.8,72.6h6.6v6.6h-6.6zM125.4,46.2h6.6v6.6h-6.6zM125.4,85.8h6.6v6.6h-6.6zM151.8,125.4h6.6v6.6h-6.6zM158.4,145.2h6.6v6.6h-6.6zM165,85.8h6.6v6.6h-6.6zM171.6,105.6h6.6v6.6h-6.6zM171.6,138.6h6.6v6.6h-6.6z"/><path fill="rgb(0,0,208)" shape-rendering="crispEdges" d="M6.6,105.6h6.6v6.6h-6.6zM33,118.8h6.6v6.6h-6.6zM79.2,132h6.6v6.6h-6.6zM99,19.8h6.6v6.6h-6.6zM99,105.6h6.6v6.6h-6.6zM138.6,85.8h6.6v6.6h-6.6zM178.2,118.8h6.6v6.6h-6.6z"/><path fill="rgb(0,0,218)" shape-rendering="crispEdges" d="M13.2,6.6h6.6v6.6h-6.6zM33,52.8h6.6v6.6h-6.6zM33,79.2h6.6v6.6h-6.6zM92.4,99h6.6v6.6h-6.6zM171.6,171.6h6.6v6.6h-6.6z"/><path fill="rgb(0,0,228)" shape-rendering="crispEdges" d="M13.2,26.4h6.6v6.6h-6.6zM145.2,72.6h6.6v6.6h-6.6z"/></pattern>
<linearGradient id="pal" x1="0" y1="1" x2="0" y2="0"><stop offset="0.0000" stop-color="#000000"/><stop offset="0.0050" stop-color="#080008"/><stop offset="0.0220" stop-color="#180018"/><stop offset="0.0390" stop-color="#300030"/><stop offset="0.0560" stop-color="#500050"/><stop offset="0.0730" stop-color="#780878"/><stop offset="0.0890" stop-color="#9810a0"/><stop offset="0.1060" stop-color="#b018b8"/><stop offset="0.1230" stop-color="#d020d8"/><stop offset="0.1340" stop-color="#e820f0"/><stop offset="0.1450" stop-color="#f020f8"/><stop offset="0.1620" stop-color="#c020f0"/><stop offset="0.1790" stop-color="#9028e8"/><stop offset="0.1960" stop-color="#6828e0"/><stop offset="0.2130" stop-color="#5020d8"/><stop offset="0.2300" stop-color="#3820d4"/><stop offset="0.2430" stop-color="#1818cc"/><stop offset="0.2520" stop-color="#1818c8"/><stop offset="0.2690" stop-color="#0818c0"/><stop offset="0.2860" stop-color="#0020c0"/><stop offset="0.3030" stop-color="#0038c8"/><stop offset="0.3190" stop-color="#0058d8"/><stop offset="0.3310" stop-color="#0870e0"/><stop offset="0.3420" stop-color="#1888e0"/><stop offset="0.3530" stop-color="#2898e8"/><stop offset="0.3700" stop-color="#30b8f0"/><stop offset="0.3870" stop-color="#44e0f8"/><stop offset="0.4040" stop-color="#50ffff"/><stop offset="0.4150" stop-color="#50ffff"/><stop offset="0.4220" stop-color="#50f0e0"/><stop offset="0.4370" stop-color="#50e0c8"/><stop offset="0.4600" stop-color="#48c8a0"/><stop offset="0.4770" stop-color="#3cb070"/><stop offset="0.4900" stop-color="#3aa850"/><stop offset="0.4950" stop-color="#38a060"/><stop offset="0.5120" stop-color="#30902e"/><stop offset="0.5280" stop-color="#2e8a20"/><stop offset="0.5450" stop-color="#267200"/><stop offset="0.5560" stop-color="#2f8000"/><stop offset="0.5730" stop-color="#448c00"/><stop offset="0.5850" stop-color="#5a9800"/><stop offset="0.6000" stop-color="#78a800"/><stop offset="0.6170" stop-color="#98bc00"/><stop offset="0.6340" stop-color="#b4d000"/><stop offset="0.6510" stop-color="#d0e000"/><stop offset="0.6680" stop-color="#e8ec00"/><stop offset="0.6850" stop-color="#ffff00"/><stop offset="0.6945" stop-color="#ffff00"/><stop offset="0.7050" stop-color="#f8d000"/><stop offset="0.7190" stop-color="#f0c000"/><stop offset="0.7415" stop-color="#e89000"/><stop offset="0.7500" stop-color="#e88800"/><stop offset="0.7610" stop-color="#e07800"/><stop offset="0.7720" stop-color="#d86800"/><stop offset="0.7840" stop-color="#d45000"/><stop offset="0.7950" stop-color="#d03800"/><stop offset="0.8060" stop-color="#cc2000"/><stop offset="0.8170" stop-color="#c80800"/><stop offset="0.8340" stop-color="#c00000"/><stop offset="0.8510" stop-color="#c81010"/><stop offset="0.8620" stop-color="#d02828"/><stop offset="0.8730" stop-color="#d84040"/><stop offset="0.8850" stop-color="#d85858"/><stop offset="0.8960" stop-color="#e06868"/><stop offset="0.9130" stop-color="#e07878"/><stop offset="0.9240" stop-color="#e09090"/><stop offset="0.9410" stop-color="#e8a8a8"/><stop offset="0.9580" stop-color="#eec0c0"/><stop offset="0.9720" stop-color="#f0d0d0"/><stop offset="0.9860" stop-color="#f0e0e0"/><stop offset="1.0000" stop-color="#f8f0f0"/></linearGradient>
</defs>
<rect x="18.0" y="16.0" width="1752.8" height="3.7" fill="#808080"/><rect x="18.0" y="16.0" width="3.2" height="863.0" fill="#808080"/><rect x="1767.6" y="16.0" width="3.2" height="863.0" fill="#646464"/><rect x="21.2" y="19.7" width="1746.4" height="3.3" fill="#000"/><rect x="21.2" y="19.7" width="3.6" height="859.3" fill="#000"/><rect x="1764.2" y="19.7" width="3.4" height="859.3" fill="#000"/><rect x="15.0" y="876.0" width="1755.8" height="3.0" fill="#808080"/><rect x="18.0" y="879.0" width="1749.6" height="4.0" fill="#000"/><rect x="15.0" y="876.0" width="3.0" height="843.0" fill="#808080"/><rect x="18.0" y="879.0" width="3.3" height="840.0" fill="#000"/><rect x="1764.2" y="879.0" width="3.3" height="839.0" fill="#000"/><rect x="1767.5" y="876.0" width="3.3" height="842.0" fill="#646464"/><rect x="18.0" y="1713.0" width="1752.8" height="10.0" fill="#000"/><rect x="18.0" y="1719.0" width="3.2" height="883.8" fill="#808080"/><rect x="21.2" y="1719.0" width="3.5" height="880.8" fill="#000"/><rect x="1767.4" y="1713.0" width="3.4" height="886.8" fill="#000"/><rect x="1770.8" y="1718.0" width="3.2" height="884.8" fill="#646464"/><rect x="21.2" y="2596.5" width="1749.6" height="3.3" fill="#000"/><rect x="18.0" y="2599.8" width="1756.0" height="3.0" fill="#404040"/>
<ellipse cx="478.2" cy="462.3" rx="362.2" ry="369.2" fill="url(#cA)"/><g filter="url(#fA)" style="isolation:isolate"><ellipse cx="478.2" cy="462.3" rx="362.2" ry="369.2" fill="url(#gA)"/><ellipse cx="478.2" cy="462.3" rx="362.2" ry="369.2" fill="url(#bA0)"/><ellipse cx="478.2" cy="462.3" rx="362.2" ry="369.2" fill="url(#n1)" style="mix-blend-mode:screen"/><ellipse cx="478.2" cy="462.3" rx="362.2" ry="369.2" fill="url(#n2)" style="mix-blend-mode:screen"/></g>
<ellipse cx="453.1" cy="1302.8" rx="351.6" ry="346.9" fill="url(#cB)"/><g filter="url(#fB)" style="isolation:isolate"><ellipse cx="453.1" cy="1302.8" rx="351.6" ry="346.9" fill="url(#gB)"/><ellipse cx="453.1" cy="1302.8" rx="351.6" ry="346.9" fill="url(#bB0)"/><ellipse cx="453.1" cy="1302.8" rx="351.6" ry="346.9" fill="url(#bB1)"/><ellipse cx="453.1" cy="1302.8" rx="351.6" ry="346.9" fill="url(#n1)" style="mix-blend-mode:screen"/><ellipse cx="453.1" cy="1302.8" rx="351.6" ry="346.9" fill="url(#n2)" style="mix-blend-mode:screen"/></g>
<ellipse cx="498.4" cy="2185.9" rx="368.9" ry="376.8" fill="url(#cC)"/><g filter="url(#fC)" style="isolation:isolate"><ellipse cx="498.4" cy="2185.9" rx="368.9" ry="376.8" fill="url(#gC)"/><ellipse cx="498.4" cy="2185.9" rx="368.9" ry="376.8" fill="url(#bC0)"/><ellipse cx="498.4" cy="2185.9" rx="368.9" ry="376.8" fill="url(#bC1)"/><ellipse cx="498.4" cy="2185.9" rx="368.9" ry="376.8" fill="url(#n1)" style="mix-blend-mode:screen"/><ellipse cx="498.4" cy="2185.9" rx="368.9" ry="376.8" fill="url(#n2)" style="mix-blend-mode:screen"/></g>
<line x1="484" y1="94" x2="488.7" y2="829" stroke="#fff" stroke-width="5.5" stroke-opacity="0.95"/><line x1="118" y1="459.6" x2="838" y2="459.6" stroke="#fff" stroke-width="5.5" stroke-opacity="0.95"/><ellipse cx="478.20" cy="462.30" rx="357.70" ry="364.70" fill="none" stroke="#200008" stroke-opacity="0.50" stroke-width="3.00"/><ellipse cx="478.20" cy="462.30" rx="363.05" ry="370.05" fill="none" stroke="#000" stroke-opacity="1.00" stroke-width="8.70"/><ellipse cx="478.20" cy="462.30" rx="368.70" ry="375.70" fill="none" stroke="#363636" stroke-opacity="1.00" stroke-width="3.00"/><line x1="458" y1="958" x2="458" y2="1648" stroke="#fff" stroke-width="5.5"/><line x1="102" y1="1294.5" x2="804" y2="1294.5" stroke="#fff" stroke-width="5"/><ellipse cx="453.05" cy="1302.85" rx="348.55" ry="343.85" fill="none" stroke="#000010" stroke-opacity="0.35" stroke-width="2.00"/><ellipse cx="453.05" cy="1302.85" rx="350.90" ry="346.20" fill="none" stroke="#000" stroke-opacity="1.00" stroke-width="3.50"/><ellipse cx="453.05" cy="1302.85" rx="354.05" ry="349.35" fill="none" stroke="#8c8c8c" stroke-opacity="1.00" stroke-width="3.00"/><line x1="499" y1="1810" x2="499" y2="2562" stroke="#fff" stroke-width="3.4"/><line x1="130" y1="2187.5" x2="866" y2="2187.5" stroke="#fff" stroke-width="3.4"/><ellipse cx="498.45" cy="2185.95" rx="364.95" ry="372.75" fill="none" stroke="#100018" stroke-opacity="0.50" stroke-width="4.00"/><ellipse cx="498.45" cy="2185.95" rx="368.40" ry="376.20" fill="none" stroke="#000" stroke-opacity="1.00" stroke-width="3.70"/><ellipse cx="498.45" cy="2185.95" rx="371.55" ry="379.35" fill="none" stroke="#6a6a6a" stroke-opacity="1.00" stroke-width="2.80"/>
<rect x="911.3" y="75.4" width="2.8" height="779.1" fill="#c4c4c4"/><rect x="911.3" y="75.4" width="54.8" height="3.1" fill="#b0b0b0"/><rect x="914.1" y="82.0" width="52.0" height="767.0" fill="url(#pal)"/><rect x="914.1" y="78.5" width="52.0" height="3.5" fill="#3a3434"/><rect x="914.1" y="849.0" width="52.0" height="5.5" fill="#2a2626"/><rect x="914.1" y="82.0" width="3.5" height="767.0" fill="#2a2020" fill-opacity="0.78"/><rect x="960.5" y="82.0" width="5.6" height="767.0" fill="#2a2424" fill-opacity="0.85"/><rect x="917.6" y="82.0" width="2.5" height="767.0" fill="#fff" fill-opacity="0.25"/><rect x="969.9" y="82.0" width="3.2" height="767.0" fill="#505050"/><rect x="973.1" y="78.5" width="7.2" height="770.5" fill="#c8c8c8"/><rect x="980.3" y="78.5" width="2.5" height="770.5" fill="#303030"/><rect x="980.3" y="843.7" width="15.4" height="2.6" fill="#404040"/><rect x="980.3" y="826.2" width="5.7" height="2.4" fill="#202020"/><rect x="980.3" y="808.5" width="5.7" height="2.4" fill="#202020"/><rect x="980.3" y="790.9" width="5.7" height="2.4" fill="#202020"/><rect x="980.3" y="773.2" width="5.7" height="2.4" fill="#202020"/><rect x="980.3" y="755.6" width="5.7" height="2.4" fill="#202020"/><rect x="980.3" y="738.0" width="5.7" height="2.4" fill="#202020"/><rect x="980.3" y="720.3" width="5.7" height="2.4" fill="#202020"/><rect x="980.3" y="702.7" width="5.7" height="2.4" fill="#202020"/><rect x="980.3" y="685.0" width="5.7" height="2.4" fill="#202020"/><rect x="980.3" y="667.3" width="15.4" height="2.6" fill="#404040"/><rect x="980.3" y="649.8" width="5.7" height="2.4" fill="#202020"/><rect x="980.3" y="632.1" width="5.7" height="2.4" fill="#202020"/><rect x="980.3" y="614.5" width="5.7" height="2.4" fill="#202020"/><rect x="980.3" y="596.8" width="5.7" height="2.4" fill="#202020"/><rect x="980.3" y="579.2" width="5.7" height="2.4" fill="#202020"/><rect x="980.3" y="561.6" width="5.7" height="2.4" fill="#202020"/><rect x="980.3" y="543.9" width="5.7" height="2.4" fill="#202020"/><rect x="980.3" y="526.3" width="5.7" height="2.4" fill="#202020"/><rect x="980.3" y="508.6" width="5.7" height="2.4" fill="#202020"/><rect x="980.3" y="490.9" width="15.4" height="2.6" fill="#404040"/><rect x="980.3" y="473.4" width="5.7" height="2.4" fill="#202020"/><rect x="980.3" y="455.7" width="5.7" height="2.4" fill="#202020"/><rect x="980.3" y="438.1" width="5.7" height="2.4" fill="#202020"/><rect x="980.3" y="420.4" width="5.7" height="2.4" fill="#202020"/><rect x="980.3" y="402.8" width="5.7" height="2.4" fill="#202020"/><rect x="980.3" y="385.2" width="5.7" height="2.4" fill="#202020"/><rect x="980.3" y="367.5" width="5.7" height="2.4" fill="#202020"/><rect x="980.3" y="349.9" width="5.7" height="2.4" fill="#202020"/><rect x="980.3" y="332.2" width="5.7" height="2.4" fill="#202020"/><rect x="980.3" y="314.5" width="15.4" height="2.6" fill="#404040"/><rect x="980.3" y="297.0" width="5.7" height="2.4" fill="#202020"/><rect x="980.3" y="279.3" width="5.7" height="2.4" fill="#202020"/><rect x="980.3" y="261.7" width="5.7" height="2.4" fill="#202020"/><rect x="980.3" y="244.0" width="5.7" height="2.4" fill="#202020"/><rect x="980.3" y="226.4" width="5.7" height="2.4" fill="#202020"/><rect x="980.3" y="208.8" width="5.7" height="2.4" fill="#202020"/><rect x="980.3" y="191.1" width="5.7" height="2.4" fill="#202020"/><rect x="980.3" y="173.5" width="5.7" height="2.4" fill="#202020"/><rect x="980.3" y="155.8" width="5.7" height="2.4" fill="#202020"/><rect x="980.3" y="138.1" width="15.4" height="2.6" fill="#404040"/><rect x="980.3" y="120.6" width="5.7" height="2.4" fill="#202020"/><rect x="980.3" y="102.9" width="5.7" height="2.4" fill="#202020"/><rect x="980.3" y="85.3" width="5.7" height="2.4" fill="#202020"/><rect x="873.0" y="955.4" width="2.1" height="697.9" fill="#c4c4c4"/><rect x="873.0" y="955.4" width="50.9" height="2.5" fill="#b0b0b0"/><rect x="875.1" y="961.1" width="48.8" height="688.9" fill="url(#pal)"/><rect x="875.1" y="957.9" width="48.8" height="3.2" fill="#3a3434"/><rect x="875.1" y="1650.0" width="48.8" height="3.3" fill="#2a2626"/><rect x="875.1" y="961.1" width="5.7" height="688.9" fill="#2a2020" fill-opacity="0.78"/><rect x="920.8" y="961.1" width="3.1" height="688.9" fill="#2a2424" fill-opacity="0.85"/><rect x="880.8" y="961.1" width="2.5" height="688.9" fill="#fff" fill-opacity="0.25"/><rect x="927.4" y="961.0" width="3.1" height="689.0" fill="#606060"/><rect x="930.5" y="958.0" width="3.8" height="692.0" fill="#e4e4e4"/><rect x="934.3" y="958.0" width="5.7" height="692.0" fill="#8a8a8a"/><rect x="937.0" y="1635.8" width="6.4" height="2.4" fill="#202020"/><rect x="937.0" y="1609.2" width="16.0" height="2.6" fill="#404040"/><rect x="937.0" y="1582.8" width="6.4" height="2.4" fill="#202020"/><rect x="937.0" y="1556.3" width="6.4" height="2.4" fill="#202020"/><rect x="937.0" y="1529.8" width="6.4" height="2.4" fill="#202020"/><rect x="937.0" y="1503.3" width="6.4" height="2.4" fill="#202020"/><rect x="937.0" y="1476.7" width="16.0" height="2.6" fill="#404040"/><rect x="937.0" y="1450.2" width="6.4" height="2.4" fill="#202020"/><rect x="937.0" y="1423.7" width="6.4" height="2.4" fill="#202020"/><rect x="937.0" y="1397.2" width="6.4" height="2.4" fill="#202020"/><rect x="937.0" y="1370.7" width="6.4" height="2.4" fill="#202020"/><rect x="937.0" y="1344.1" width="16.0" height="2.6" fill="#404040"/><rect x="937.0" y="1317.7" width="6.4" height="2.4" fill="#202020"/><rect x="937.0" y="1291.2" width="6.4" height="2.4" fill="#202020"/><rect x="937.0" y="1264.7" width="6.4" height="2.4" fill="#202020"/><rect x="937.0" y="1238.2" width="6.4" height="2.4" fill="#202020"/><rect x="937.0" y="1211.5" width="16.0" height="2.6" fill="#404040"/><rect x="937.0" y="1185.1" width="6.4" height="2.4" fill="#202020"/><rect x="937.0" y="1158.6" width="6.4" height="2.4" fill="#202020"/><rect x="937.0" y="1132.1" width="6.4" height="2.4" fill="#202020"/><rect x="937.0" y="1105.6" width="6.4" height="2.4" fill="#202020"/><rect x="937.0" y="1079.0" width="16.0" height="2.6" fill="#404040"/><rect x="937.0" y="1052.6" width="6.4" height="2.4" fill="#202020"/><rect x="937.0" y="1026.1" width="6.4" height="2.4" fill="#202020"/><rect x="937.0" y="999.6" width="6.4" height="2.4" fill="#202020"/><rect x="937.0" y="973.1" width="6.4" height="2.4" fill="#202020"/><rect x="948.0" y="1812.0" width="2.3" height="731.5" fill="#c4c4c4"/><rect x="948.0" y="1812.0" width="54.3" height="2.7" fill="#b0b0b0"/><rect x="950.3" y="1818.2" width="52.0" height="721.8" fill="url(#pal)"/><rect x="950.3" y="1814.7" width="52.0" height="3.5" fill="#3a3434"/><rect x="950.3" y="2540.0" width="52.0" height="3.5" fill="#2a2626"/><rect x="950.3" y="1818.2" width="3.5" height="721.8" fill="#2a2020" fill-opacity="0.78"/><rect x="999.7" y="1818.2" width="2.6" height="721.8" fill="#2a2424" fill-opacity="0.85"/><rect x="953.8" y="1818.2" width="2.5" height="721.8" fill="#fff" fill-opacity="0.25"/><rect x="1005.9" y="1818.0" width="3.5" height="722.0" fill="#505050"/><rect x="1016.5" y="1815.0" width="2.5" height="725.0" fill="#c8c8c8"/><rect x="1019.0" y="1815.0" width="3.6" height="725.0" fill="#404040"/><rect x="1019.0" y="2526.1" width="6.3" height="2.4" fill="#202020"/><rect x="1019.0" y="2510.6" width="6.3" height="2.4" fill="#202020"/><rect x="1019.0" y="2495.2" width="6.3" height="2.4" fill="#202020"/><rect x="1019.0" y="2479.8" width="6.3" height="2.4" fill="#202020"/><rect x="1019.0" y="2464.3" width="6.3" height="2.4" fill="#202020"/><rect x="1019.0" y="2448.9" width="6.3" height="2.4" fill="#202020"/><rect x="1019.0" y="2433.4" width="6.3" height="2.4" fill="#202020"/><rect x="1019.0" y="2417.9" width="13.3" height="2.6" fill="#404040"/><rect x="1019.0" y="2402.5" width="6.3" height="2.4" fill="#202020"/><rect x="1019.0" y="2387.1" width="6.3" height="2.4" fill="#202020"/><rect x="1019.0" y="2371.7" width="6.3" height="2.4" fill="#202020"/><rect x="1019.0" y="2356.2" width="6.3" height="2.4" fill="#202020"/><rect x="1019.0" y="2340.8" width="6.3" height="2.4" fill="#202020"/><rect x="1019.0" y="2325.3" width="6.3" height="2.4" fill="#202020"/><rect x="1019.0" y="2309.9" width="6.3" height="2.4" fill="#202020"/><rect x="1019.0" y="2294.4" width="6.3" height="2.4" fill="#202020"/><rect x="1019.0" y="2279.0" width="6.3" height="2.4" fill="#202020"/><rect x="1019.0" y="2263.5" width="13.3" height="2.6" fill="#404040"/><rect x="1019.0" y="2248.1" width="6.3" height="2.4" fill="#202020"/><rect x="1019.0" y="2232.7" width="6.3" height="2.4" fill="#202020"/><rect x="1019.0" y="2217.2" width="6.3" height="2.4" fill="#202020"/><rect x="1019.0" y="2201.8" width="6.3" height="2.4" fill="#202020"/><rect x="1019.0" y="2186.3" width="6.3" height="2.4" fill="#202020"/><rect x="1019.0" y="2170.9" width="6.3" height="2.4" fill="#202020"/><rect x="1019.0" y="2155.5" width="6.3" height="2.4" fill="#202020"/><rect x="1019.0" y="2140.0" width="6.3" height="2.4" fill="#202020"/><rect x="1019.0" y="2124.6" width="6.3" height="2.4" fill="#202020"/><rect x="1019.0" y="2109.0" width="13.3" height="2.6" fill="#404040"/><rect x="1019.0" y="2093.7" width="6.3" height="2.4" fill="#202020"/><rect x="1019.0" y="2078.2" width="6.3" height="2.4" fill="#202020"/><rect x="1019.0" y="2062.8" width="6.3" height="2.4" fill="#202020"/><rect x="1019.0" y="2047.4" width="6.3" height="2.4" fill="#202020"/><rect x="1019.0" y="2031.9" width="6.3" height="2.4" fill="#202020"/><rect x="1019.0" y="2016.5" width="6.3" height="2.4" fill="#202020"/><rect x="1019.0" y="2001.0" width="6.3" height="2.4" fill="#202020"/><rect x="1019.0" y="1985.6" width="6.3" height="2.4" fill="#202020"/><rect x="1019.0" y="1970.1" width="6.3" height="2.4" fill="#202020"/><rect x="1019.0" y="1954.6" width="13.3" height="2.6" fill="#404040"/><rect x="1019.0" y="1939.3" width="6.3" height="2.4" fill="#202020"/><rect x="1019.0" y="1923.8" width="6.3" height="2.4" fill="#202020"/><rect x="1019.0" y="1908.4" width="6.3" height="2.4" fill="#202020"/><rect x="1019.0" y="1892.9" width="6.3" height="2.4" fill="#202020"/><rect x="1019.0" y="1877.5" width="6.3" height="2.4" fill="#202020"/><rect x="1019.0" y="1862.0" width="6.3" height="2.4" fill="#202020"/><rect x="1019.0" y="1846.6" width="6.3" height="2.4" fill="#202020"/><rect x="1019.0" y="1831.2" width="6.3" height="2.4" fill="#202020"/>
<rect x="1278.5" y="144.5" width="449" height="301.8" fill="none" stroke="#505050" stroke-width="3.8"/><rect x="1262.6" y="164.8" width="14.4" height="3.4" fill="#555"/><rect x="1287.6" y="164.4" width="8.0" height="4.2" fill="#6e6e6e"/><rect x="1313.7" y="164.4" width="8.0" height="4.2" fill="#6e6e6e"/><rect x="1339.8" y="164.4" width="8.0" height="4.2" fill="#6e6e6e"/><rect x="1365.9" y="164.4" width="8.0" height="4.2" fill="#6e6e6e"/><rect x="1392.0" y="164.4" width="8.0" height="4.2" fill="#6e6e6e"/><rect x="1418.1" y="164.4" width="8.0" height="4.2" fill="#6e6e6e"/><rect x="1444.2" y="164.4" width="8.0" height="4.2" fill="#6e6e6e"/><rect x="1470.3" y="164.4" width="8.0" height="4.2" fill="#6e6e6e"/><rect x="1496.4" y="164.4" width="8.0" height="4.2" fill="#6e6e6e"/><rect x="1522.5" y="164.4" width="8.0" height="4.2" fill="#6e6e6e"/><rect x="1548.6" y="164.4" width="8.0" height="4.2" fill="#6e6e6e"/><rect x="1574.7" y="164.4" width="8.0" height="4.2" fill="#6e6e6e"/><rect x="1600.8" y="164.4" width="8.0" height="4.2" fill="#6e6e6e"/><rect x="1626.9" y="164.4" width="8.0" height="4.2" fill="#6e6e6e"/><rect x="1653.0" y="164.4" width="8.0" height="4.2" fill="#6e6e6e"/><rect x="1679.1" y="164.4" width="8.0" height="4.2" fill="#6e6e6e"/><rect x="1705.2" y="164.4" width="8.0" height="4.2" fill="#6e6e6e"/><rect x="1262.6" y="302.2" width="14.4" height="3.4" fill="#555"/><rect x="1287.6" y="301.8" width="8.0" height="4.2" fill="#6e6e6e"/><rect x="1313.7" y="301.8" width="8.0" height="4.2" fill="#6e6e6e"/><rect x="1339.8" y="301.8" width="8.0" height="4.2" fill="#6e6e6e"/><rect x="1365.9" y="301.8" width="8.0" height="4.2" fill="#6e6e6e"/><rect x="1392.0" y="301.8" width="8.0" height="4.2" fill="#6e6e6e"/><rect x="1418.1" y="301.8" width="8.0" height="4.2" fill="#6e6e6e"/><rect x="1444.2" y="301.8" width="8.0" height="4.2" fill="#6e6e6e"/><rect x="1470.3" y="301.8" width="8.0" height="4.2" fill="#6e6e6e"/><rect x="1496.4" y="301.8" width="8.0" height="4.2" fill="#6e6e6e"/><rect x="1522.5" y="301.8" width="8.0" height="4.2" fill="#6e6e6e"/><rect x="1548.6" y="301.8" width="8.0" height="4.2" fill="#6e6e6e"/><rect x="1574.7" y="301.8" width="8.0" height="4.2" fill="#6e6e6e"/><rect x="1600.8" y="301.8" width="8.0" height="4.2" fill="#6e6e6e"/><rect x="1626.9" y="301.8" width="8.0" height="4.2" fill="#6e6e6e"/><rect x="1653.0" y="301.8" width="8.0" height="4.2" fill="#6e6e6e"/><rect x="1679.1" y="301.8" width="8.0" height="4.2" fill="#6e6e6e"/><rect x="1705.2" y="301.8" width="8.0" height="4.2" fill="#6e6e6e"/><rect x="1262.6" y="439.6" width="14.4" height="3.4" fill="#555"/><rect x="1287.6" y="439.2" width="8.0" height="4.2" fill="#6e6e6e"/><rect x="1313.7" y="439.2" width="8.0" height="4.2" fill="#6e6e6e"/><rect x="1339.8" y="439.2" width="8.0" height="4.2" fill="#6e6e6e"/><rect x="1365.9" y="439.2" width="8.0" height="4.2" fill="#6e6e6e"/><rect x="1392.0" y="439.2" width="8.0" height="4.2" fill="#6e6e6e"/><rect x="1418.1" y="439.2" width="8.0" height="4.2" fill="#6e6e6e"/><rect x="1444.2" y="439.2" width="8.0" height="4.2" fill="#6e6e6e"/><rect x="1470.3" y="439.2" width="8.0" height="4.2" fill="#6e6e6e"/><rect x="1496.4" y="439.2" width="8.0" height="4.2" fill="#6e6e6e"/><rect x="1522.5" y="439.2" width="8.0" height="4.2" fill="#6e6e6e"/><rect x="1548.6" y="439.2" width="8.0" height="4.2" fill="#6e6e6e"/><rect x="1574.7" y="439.2" width="8.0" height="4.2" fill="#6e6e6e"/><rect x="1600.8" y="439.2" width="8.0" height="4.2" fill="#6e6e6e"/><rect x="1626.9" y="439.2" width="8.0" height="4.2" fill="#6e6e6e"/><rect x="1653.0" y="439.2" width="8.0" height="4.2" fill="#6e6e6e"/><rect x="1679.1" y="439.2" width="8.0" height="4.2" fill="#6e6e6e"/><rect x="1705.2" y="439.2" width="8.0" height="4.2" fill="#6e6e6e"/><rect x="1272.0" y="233.9" width="5.0" height="2.6" fill="#333"/><rect x="1272.0" y="371.3" width="5.0" height="2.6" fill="#333"/><polyline points="1285.0,276.5 1287.6,261.8 1290.2,259.8 1292.8,242.3 1295.4,243.1 1298.0,222.3 1300.6,229.2 1303.2,203.7 1305.8,197.3 1308.4,200.3 1311.0,202.1 1313.6,222.4 1316.2,243.6 1318.8,217.7 1321.4,226.2 1324.0,230.1 1326.6,233.3 1329.2,230.6 1331.8,215.9 1334.4,238.2 1337.0,247.0 1339.6,245.8 1342.2,245.0 1344.8,246.3 1347.4,264.6 1350.0,240.4 1352.6,248.3 1355.2,233.2 1357.8,259.3 1360.4,227.1 1363.0,267.3 1365.6,259.0 1368.2,279.1 1370.8,274.2 1373.4,272.6 1376.0,263.2 1378.6,288.4 1381.2,289.0 1383.8,281.0 1386.4,281.7 1389.0,292.8 1391.6,295.4 1394.2,276.8 1396.8,284.3 1399.4,289.0 1402.0,293.2 1404.6,288.3 1407.2,293.0 1409.8,285.5 1412.4,286.3 1415.0,288.4 1417.6,306.7 1420.2,288.6 1422.8,301.8 1425.4,304.4 1428.0,313.0 1430.6,308.2 1433.2,313.1 1435.8,312.4 1438.4,295.2 1441.0,339.9 1443.6,321.0 1446.2,318.4 1448.8,308.5 1451.4,319.3 1454.0,305.7 1456.6,336.0 1459.2,333.6 1461.8,316.5 1464.4,355.0 1467.0,358.4 1469.6,341.4 1472.2,347.4 1474.8,369.9 1477.4,366.0 1480.0,365.0 1482.6,365.0 1485.2,374.8 1487.8,383.3 1490.4,392.8 1493.0,415.5 1495.6,411.1 1498.2,432.6 1500.8,411.9 1503.4,429.8 1506.0,429.5 1508.6,449.3 1511.2,430.5 1513.8,447.8 1516.4,400.6 1519.0,413.8 1521.6,424.0 1524.2,395.3 1526.8,398.7 1529.4,395.3 1532.0,379.9 1534.6,376.4 1537.2,367.6 1539.8,390.6 1542.4,341.9 1545.0,355.4 1547.6,343.5 1550.2,339.5 1552.8,323.9 1555.4,344.9 1558.0,337.6 1560.6,320.3 1563.2,330.5 1565.8,336.2 1568.4,332.7 1571.0,313.6 1573.6,308.9 1576.2,305.6 1578.8,302.9 1581.4,292.7 1584.0,279.1 1586.6,288.8 1589.2,280.1 1591.8,292.7 1594.4,306.5 1597.0,274.0 1599.6,277.7 1602.2,284.9 1604.8,276.8 1607.4,264.5 1610.0,275.5 1612.6,272.2 1615.2,279.4 1617.8,277.0 1620.4,273.9 1623.0,271.8 1625.6,251.7 1628.2,292.6 1630.8,261.8 1633.4,244.0 1636.0,262.4 1638.6,252.3 1641.2,233.5 1643.8,253.3 1646.4,257.5 1649.0,269.6 1651.6,254.6 1654.2,266.4 1656.8,258.8 1659.4,241.0 1662.0,244.7 1664.6,256.3 1667.2,257.8 1669.8,250.2 1672.4,244.3 1675.0,211.4 1677.6,255.6 1680.2,237.5 1682.8,221.6 1685.4,249.7 1688.0,245.2 1690.6,238.4 1693.2,243.0 1695.8,232.9 1698.4,230.6 1701.0,221.4 1703.6,236.3 1706.2,232.9 1708.8,223.9 1711.4,220.9 1714.0,227.9 1716.6,228.3 1719.2,224.9" fill="none" stroke="#ff8c8c" stroke-width="4.2" stroke-opacity="0.35" stroke-linejoin="miter"/><polyline points="1285.0,227.8 1287.6,219.5 1290.2,223.6 1292.8,211.2 1295.4,227.3 1298.0,216.7 1300.6,228.3 1303.2,188.8 1305.8,202.1 1308.4,218.2 1311.0,222.5 1313.6,207.1 1316.2,196.4 1318.8,225.3 1321.4,218.2 1324.0,206.1 1326.6,225.0 1329.2,235.5 1331.8,233.0 1334.4,248.3 1337.0,232.0 1339.6,205.6 1342.2,246.3 1344.8,238.5 1347.4,238.3 1350.0,234.7 1352.6,239.7 1355.2,260.3 1357.8,268.6 1360.4,263.6 1363.0,250.9 1365.6,254.5 1368.2,262.0 1370.8,264.9 1373.4,267.1 1376.0,278.7 1378.6,258.4 1381.2,285.3 1383.8,269.6 1386.4,281.7 1389.0,287.9 1391.6,259.3 1394.2,279.2 1396.8,299.2 1399.4,292.3 1402.0,273.3 1404.6,287.6 1407.2,279.0 1409.8,277.6 1412.4,298.6 1415.0,292.6 1417.6,297.2 1420.2,292.0 1422.8,308.0 1425.4,300.6 1428.0,310.2 1430.6,309.4 1433.2,307.7 1435.8,311.1 1438.4,320.5 1441.0,330.5 1443.6,303.0 1446.2,321.5 1448.8,317.9 1451.4,323.9 1454.0,337.2 1456.6,322.6 1459.2,324.5 1461.8,337.2 1464.4,341.6 1467.0,366.5 1469.6,352.1 1472.2,356.3 1474.8,364.6 1477.4,361.5 1480.0,347.5 1482.6,385.1 1485.2,395.5 1487.8,393.3 1490.4,388.0 1493.0,400.8 1495.6,410.1 1498.2,415.7 1500.8,425.6 1503.4,418.3 1506.0,432.0 1508.6,429.2 1511.2,443.8 1513.8,430.7 1516.4,417.2 1519.0,402.5 1521.6,412.3 1524.2,419.7 1526.8,402.1 1529.4,387.4 1532.0,385.3 1534.6,385.3 1537.2,383.2 1539.8,390.4 1542.4,368.7 1545.0,371.7 1547.6,357.0 1550.2,370.4 1552.8,349.5 1555.4,334.6 1558.0,321.1 1560.6,332.6 1563.2,312.0 1565.8,303.1 1568.4,331.5 1571.0,305.3 1573.6,278.3 1576.2,283.0 1578.8,307.8 1581.4,330.9 1584.0,287.0 1586.6,297.5 1589.2,280.1 1591.8,251.3 1594.4,279.6 1597.0,305.6 1599.6,286.2 1602.2,292.1 1604.8,283.1 1607.4,284.2 1610.0,266.5 1612.6,259.6 1615.2,263.5 1617.8,267.0 1620.4,266.4 1623.0,253.2 1625.6,263.4 1628.2,249.0 1630.8,274.0 1633.4,265.6 1636.0,261.7 1638.6,269.6 1641.2,271.7 1643.8,275.2 1646.4,257.3 1649.0,257.8 1651.6,245.8 1654.2,247.4 1656.8,252.1 1659.4,252.2 1662.0,250.2 1664.6,262.8 1667.2,246.9 1669.8,224.3 1672.4,239.2 1675.0,244.5 1677.6,240.6 1680.2,219.0 1682.8,254.4 1685.4,247.6 1688.0,247.6 1690.6,258.6 1693.2,216.1 1695.8,244.7 1698.4,228.6 1701.0,231.1 1703.6,249.6 1706.2,219.9 1708.8,213.0 1711.4,226.5 1714.0,253.0 1716.6,208.5" fill="none" stroke="#141414" stroke-width="1.9" stroke-linejoin="miter" stroke-miterlimit="3"/><polyline points="1285.0,276.5 1287.6,261.8 1290.2,259.8 1292.8,242.3 1295.4,243.1 1298.0,222.3 1300.6,229.2 1303.2,203.7 1305.8,197.3 1308.4,200.3 1311.0,202.1 1313.6,222.4 1316.2,243.6 1318.8,217.7 1321.4,226.2 1324.0,230.1 1326.6,233.3 1329.2,230.6 1331.8,215.9 1334.4,238.2 1337.0,247.0 1339.6,245.8 1342.2,245.0 1344.8,246.3 1347.4,264.6 1350.0,240.4 1352.6,248.3 1355.2,233.2 1357.8,259.3 1360.4,227.1 1363.0,267.3 1365.6,259.0 1368.2,279.1 1370.8,274.2 1373.4,272.6 1376.0,263.2 1378.6,288.4 1381.2,289.0 1383.8,281.0 1386.4,281.7 1389.0,292.8 1391.6,295.4 1394.2,276.8 1396.8,284.3 1399.4,289.0 1402.0,293.2 1404.6,288.3 1407.2,293.0 1409.8,285.5 1412.4,286.3 1415.0,288.4 1417.6,306.7 1420.2,288.6 1422.8,301.8 1425.4,304.4 1428.0,313.0 1430.6,308.2 1433.2,313.1 1435.8,312.4 1438.4,295.2 1441.0,339.9 1443.6,321.0 1446.2,318.4 1448.8,308.5 1451.4,319.3 1454.0,305.7 1456.6,336.0 1459.2,333.6 1461.8,316.5 1464.4,355.0 1467.0,358.4 1469.6,341.4 1472.2,347.4 1474.8,369.9 1477.4,366.0 1480.0,365.0 1482.6,365.0 1485.2,374.8 1487.8,383.3 1490.4,392.8 1493.0,415.5 1495.6,411.1 1498.2,432.6 1500.8,411.9 1503.4,429.8 1506.0,429.5 1508.6,449.3 1511.2,430.5 1513.8,447.8 1516.4,400.6 1519.0,413.8 1521.6,424.0 1524.2,395.3 1526.8,398.7 1529.4,395.3 1532.0,379.9 1534.6,376.4 1537.2,367.6 1539.8,390.6 1542.4,341.9 1545.0,355.4 1547.6,343.5 1550.2,339.5 1552.8,323.9 1555.4,344.9 1558.0,337.6 1560.6,320.3 1563.2,330.5 1565.8,336.2 1568.4,332.7 1571.0,313.6 1573.6,308.9 1576.2,305.6 1578.8,302.9 1581.4,292.7 1584.0,279.1 1586.6,288.8 1589.2,280.1 1591.8,292.7 1594.4,306.5 1597.0,274.0 1599.6,277.7 1602.2,284.9 1604.8,276.8 1607.4,264.5 1610.0,275.5 1612.6,272.2 1615.2,279.4 1617.8,277.0 1620.4,273.9 1623.0,271.8 1625.6,251.7 1628.2,292.6 1630.8,261.8 1633.4,244.0 1636.0,262.4 1638.6,252.3 1641.2,233.5 1643.8,253.3 1646.4,257.5 1649.0,269.6 1651.6,254.6 1654.2,266.4 1656.8,258.8 1659.4,241.0 1662.0,244.7 1664.6,256.3 1667.2,257.8 1669.8,250.2 1672.4,244.3 1675.0,211.4 1677.6,255.6 1680.2,237.5 1682.8,221.6 1685.4,249.7 1688.0,245.2 1690.6,238.4 1693.2,243.0 1695.8,232.9 1698.4,230.6 1701.0,221.4 1703.6,236.3 1706.2,232.9 1708.8,223.9 1711.4,220.9 1714.0,227.9 1716.6,228.3 1719.2,224.9" fill="none" stroke="#e81c1c" stroke-width="2.2" stroke-opacity="0.88" stroke-linejoin="miter" stroke-miterlimit="3"/><rect x="1319.5" y="1000" width="403.3" height="261.8" fill="none" stroke="#5a5a5a" stroke-width="3.6"/><rect x="1305.0" y="1096.1" width="13.0" height="3.4" fill="#444"/><rect x="1305.0" y="1192.8" width="13.0" height="3.4" fill="#888"/><rect x="1327.8" y="1096.0" width="10.0" height="3.6" fill="#505050"/><rect x="1353.8" y="1096.0" width="10.0" height="3.6" fill="#505050"/><rect x="1379.8" y="1096.0" width="10.0" height="3.6" fill="#505050"/><rect x="1405.8" y="1096.0" width="10.0" height="3.6" fill="#505050"/><rect x="1431.8" y="1096.0" width="10.0" height="3.6" fill="#505050"/><rect x="1457.8" y="1096.0" width="10.0" height="3.6" fill="#505050"/><rect x="1483.8" y="1096.0" width="10.0" height="3.6" fill="#505050"/><rect x="1509.8" y="1096.0" width="10.0" height="3.6" fill="#505050"/><rect x="1535.8" y="1096.0" width="10.0" height="3.6" fill="#505050"/><rect x="1561.8" y="1096.0" width="10.0" height="3.6" fill="#505050"/><rect x="1587.8" y="1096.0" width="10.0" height="3.6" fill="#505050"/><rect x="1613.8" y="1096.0" width="10.0" height="3.6" fill="#505050"/><rect x="1639.8" y="1096.0" width="10.0" height="3.6" fill="#505050"/><rect x="1665.8" y="1096.0" width="10.0" height="3.6" fill="#505050"/><rect x="1691.8" y="1096.0" width="10.0" height="3.6" fill="#505050"/><rect x="1327.8" y="1192.4" width="9.0" height="4.2" fill="#8a8a8a"/><rect x="1353.8" y="1192.4" width="9.0" height="4.2" fill="#8a8a8a"/><rect x="1379.8" y="1192.4" width="9.0" height="4.2" fill="#8a8a8a"/><rect x="1405.8" y="1192.4" width="9.0" height="4.2" fill="#8a8a8a"/><rect x="1431.8" y="1192.4" width="9.0" height="4.2" fill="#8a8a8a"/><rect x="1457.8" y="1192.4" width="9.0" height="4.2" fill="#8a8a8a"/><rect x="1483.8" y="1192.4" width="9.0" height="4.2" fill="#8a8a8a"/><rect x="1509.8" y="1192.4" width="9.0" height="4.2" fill="#8a8a8a"/><rect x="1535.8" y="1192.4" width="9.0" height="4.2" fill="#8a8a8a"/><rect x="1561.8" y="1192.4" width="9.0" height="4.2" fill="#8a8a8a"/><rect x="1587.8" y="1192.4" width="9.0" height="4.2" fill="#8a8a8a"/><rect x="1613.8" y="1192.4" width="9.0" height="4.2" fill="#8a8a8a"/><rect x="1639.8" y="1192.4" width="9.0" height="4.2" fill="#8a8a8a"/><rect x="1665.8" y="1192.4" width="9.0" height="4.2" fill="#8a8a8a"/><rect x="1691.8" y="1192.4" width="9.0" height="4.2" fill="#8a8a8a"/><rect x="1314.0" y="1019.2" width="5.0" height="2.6" fill="#222"/><rect x="1314.0" y="1043.5" width="5.0" height="2.6" fill="#222"/><rect x="1314.0" y="1069.5" width="5.0" height="2.6" fill="#222"/><rect x="1314.0" y="1120.3" width="5.0" height="2.6" fill="#222"/><rect x="1314.0" y="1148.0" width="5.0" height="2.6" fill="#222"/><rect x="1314.0" y="1171.3" width="5.0" height="2.6" fill="#222"/><rect x="1314.0" y="1220.3" width="5.0" height="2.6" fill="#222"/><rect x="1314.0" y="1244.5" width="5.0" height="2.6" fill="#222"/><polyline points="1328.0,1203.9 1330.6,1204.4 1333.2,1234.9 1335.8,1212.1 1338.4,1205.3 1341.0,1196.2 1343.6,1196.1 1346.2,1205.2 1348.8,1198.7 1351.4,1160.2 1354.0,1182.4 1356.6,1174.0 1359.2,1167.3 1361.8,1185.4 1364.4,1200.9 1367.0,1209.3 1369.6,1193.6 1372.2,1183.8 1374.8,1185.6 1377.4,1179.9 1380.0,1181.2 1382.6,1160.8 1385.2,1161.1 1387.8,1166.3 1390.4,1163.2 1393.0,1152.7 1395.6,1157.4 1398.2,1159.6 1400.8,1173.4 1403.4,1142.1 1406.0,1162.0 1408.6,1168.7 1411.2,1157.9 1413.8,1151.6 1416.4,1159.8 1419.0,1162.7 1421.6,1138.0 1424.2,1136.6 1426.8,1146.1 1429.4,1140.6 1432.0,1136.1 1434.6,1124.3 1437.2,1125.1 1439.8,1124.8 1442.4,1115.5 1445.0,1131.4 1447.6,1132.5 1450.2,1125.6 1452.8,1113.5 1455.4,1106.1 1458.0,1091.0 1460.6,1101.1 1463.2,1086.8 1465.8,1092.1 1468.4,1085.2 1471.0,1083.6 1473.6,1080.3 1476.2,1058.5 1478.8,1070.1 1481.4,1038.9 1484.0,1043.1 1486.6,1049.1 1489.2,1045.1 1491.8,1042.7 1494.4,1049.2 1497.0,1039.2 1499.6,1031.7 1502.2,1035.1 1504.8,1017.1 1507.4,1031.7 1510.0,1031.5 1512.6,1029.7 1515.2,1030.1 1517.8,1029.7 1520.4,1011.0 1523.0,1025.6 1525.6,1036.1 1528.2,1033.0 1530.8,1019.0 1533.4,1021.6 1536.0,1034.0 1538.6,1048.3 1541.2,1037.5 1543.8,1023.7 1546.4,1024.7 1549.0,1057.4 1551.6,1056.1 1554.2,1064.3 1556.8,1062.9 1559.4,1083.5 1562.0,1095.6 1564.6,1088.1 1567.2,1089.8 1569.8,1103.7 1572.4,1112.4 1575.0,1114.9 1577.6,1115.2 1580.2,1121.4 1582.8,1118.5 1585.4,1108.1 1588.0,1138.6 1590.6,1140.3 1593.2,1127.7 1595.8,1131.2 1598.4,1132.9 1601.0,1135.9 1603.6,1132.8 1606.2,1138.9 1608.8,1145.8 1611.4,1147.9 1614.0,1146.0 1616.6,1152.4 1619.2,1150.2 1621.8,1149.8 1624.4,1154.2 1627.0,1150.4 1629.6,1152.0 1632.2,1155.5 1634.8,1164.9 1637.4,1182.0 1640.0,1166.9 1642.6,1182.7 1645.2,1183.8 1647.8,1188.1 1650.4,1190.1 1653.0,1175.4 1655.6,1166.3 1658.2,1179.1 1660.8,1180.6 1663.4,1176.7 1666.0,1171.3 1668.6,1179.2 1671.2,1178.4 1673.8,1184.2 1676.4,1188.3 1679.0,1196.0 1681.6,1196.7 1684.2,1191.1 1686.8,1194.6 1689.4,1188.2 1692.0,1195.2 1694.6,1187.6 1697.2,1208.2 1699.8,1201.5 1702.4,1194.0 1705.0,1193.6 1707.6,1200.7 1710.2,1219.1" fill="none" stroke="#ff8c8c" stroke-width="4.2" stroke-opacity="0.35" stroke-linejoin="miter"/><polyline points="1328.0,1205.4 1330.6,1214.7 1333.2,1189.1 1335.8,1223.7 1338.4,1214.3 1341.0,1209.8 1343.6,1201.8 1346.2,1194.6 1348.8,1177.4 1351.4,1178.9 1354.0,1188.4 1356.6,1190.5 1359.2,1191.7 1361.8,1188.0 1364.4,1179.2 1367.0,1182.5 1369.6,1180.2 1372.2,1172.5 1374.8,1182.6 1377.4,1180.4 1380.0,1178.5 1382.6,1147.3 1385.2,1155.3 1387.8,1150.8 1390.4,1159.6 1393.0,1144.4 1395.6,1173.2 1398.2,1144.8 1400.8,1147.9 1403.4,1154.0 1406.0,1166.8 1408.6,1130.6 1411.2,1143.4 1413.8,1146.9 1416.4,1145.3 1419.0,1152.9 1421.6,1147.0 1424.2,1135.8 1426.8,1132.9 1429.4,1135.8 1432.0,1142.0 1434.6,1130.9 1437.2,1104.5 1439.8,1118.8 1442.4,1115.6 1445.0,1118.6 1447.6,1113.9 1450.2,1102.7 1452.8,1098.0 1455.4,1110.6 1458.0,1097.2 1460.6,1089.7 1463.2,1091.3 1465.8,1079.4 1468.4,1073.9 1471.0,1063.0 1473.6,1067.7 1476.2,1066.4 1478.8,1045.6 1481.4,1059.4 1484.0,1038.5 1486.6,1053.5 1489.2,1035.6 1491.8,1032.4 1494.4,1044.3 1497.0,1027.5 1499.6,1035.4 1502.2,1042.0 1504.8,1033.1 1507.4,1033.3 1510.0,1050.3 1512.6,1037.0 1515.2,1034.0 1517.8,1046.0 1520.4,1012.9 1523.0,1034.8 1525.6,1030.9 1528.2,1035.0 1530.8,1039.8 1533.4,1040.2 1536.0,1049.3 1538.6,1041.7 1541.2,1042.6 1543.8,1058.7 1546.4,1049.3 1549.0,1057.3 1551.6,1065.0 1554.2,1080.8 1556.8,1066.2 1559.4,1080.1 1562.0,1089.4 1564.6,1091.4 1567.2,1098.4 1569.8,1103.3 1572.4,1106.5 1575.0,1119.0 1577.6,1117.5 1580.2,1132.6 1582.8,1124.9 1585.4,1150.2 1588.0,1147.4 1590.6,1131.5 1593.2,1159.4 1595.8,1139.6 1598.4,1146.8 1601.0,1143.6 1603.6,1157.4 1606.2,1154.7 1608.8,1144.5 1611.4,1141.8 1614.0,1141.8 1616.6,1137.9 1619.2,1161.0 1621.8,1144.2 1624.4,1147.8 1627.0,1154.6 1629.6,1140.4 1632.2,1165.5 1634.8,1169.1 1637.4,1162.1 1640.0,1166.1 1642.6,1177.1 1645.2,1173.3 1647.8,1159.9 1650.4,1168.0 1653.0,1184.6 1655.6,1185.8 1658.2,1172.5 1660.8,1182.2 1663.4,1182.0 1666.0,1175.4 1668.6,1197.1 1671.2,1181.6 1673.8,1177.2 1676.4,1195.9 1679.0,1211.2 1681.6,1199.4 1684.2,1188.4 1686.8,1184.2 1689.4,1219.6 1692.0,1183.1 1694.6,1190.1 1697.2,1203.2 1699.8,1204.1 1702.4,1175.7 1705.0,1199.9 1707.6,1198.3" fill="none" stroke="#141414" stroke-width="1.9" stroke-linejoin="miter" stroke-miterlimit="3"/><polyline points="1328.0,1203.9 1330.6,1204.4 1333.2,1234.9 1335.8,1212.1 1338.4,1205.3 1341.0,1196.2 1343.6,1196.1 1346.2,1205.2 1348.8,1198.7 1351.4,1160.2 1354.0,1182.4 1356.6,1174.0 1359.2,1167.3 1361.8,1185.4 1364.4,1200.9 1367.0,1209.3 1369.6,1193.6 1372.2,1183.8 1374.8,1185.6 1377.4,1179.9 1380.0,1181.2 1382.6,1160.8 1385.2,1161.1 1387.8,1166.3 1390.4,1163.2 1393.0,1152.7 1395.6,1157.4 1398.2,1159.6 1400.8,1173.4 1403.4,1142.1 1406.0,1162.0 1408.6,1168.7 1411.2,1157.9 1413.8,1151.6 1416.4,1159.8 1419.0,1162.7 1421.6,1138.0 1424.2,1136.6 1426.8,1146.1 1429.4,1140.6 1432.0,1136.1 1434.6,1124.3 1437.2,1125.1 1439.8,1124.8 1442.4,1115.5 1445.0,1131.4 1447.6,1132.5 1450.2,1125.6 1452.8,1113.5 1455.4,1106.1 1458.0,1091.0 1460.6,1101.1 1463.2,1086.8 1465.8,1092.1 1468.4,1085.2 1471.0,1083.6 1473.6,1080.3 1476.2,1058.5 1478.8,1070.1 1481.4,1038.9 1484.0,1043.1 1486.6,1049.1 1489.2,1045.1 1491.8,1042.7 1494.4,1049.2 1497.0,1039.2 1499.6,1031.7 1502.2,1035.1 1504.8,1017.1 1507.4,1031.7 1510.0,1031.5 1512.6,1029.7 1515.2,1030.1 1517.8,1029.7 1520.4,1011.0 1523.0,1025.6 1525.6,1036.1 1528.2,1033.0 1530.8,1019.0 1533.4,1021.6 1536.0,1034.0 1538.6,1048.3 1541.2,1037.5 1543.8,1023.7 1546.4,1024.7 1549.0,1057.4 1551.6,1056.1 1554.2,1064.3 1556.8,1062.9 1559.4,1083.5 1562.0,1095.6 1564.6,1088.1 1567.2,1089.8 1569.8,1103.7 1572.4,1112.4 1575.0,1114.9 1577.6,1115.2 1580.2,1121.4 1582.8,1118.5 1585.4,1108.1 1588.0,1138.6 1590.6,1140.3 1593.2,1127.7 1595.8,1131.2 1598.4,1132.9 1601.0,1135.9 1603.6,1132.8 1606.2,1138.9 1608.8,1145.8 1611.4,1147.9 1614.0,1146.0 1616.6,1152.4 1619.2,1150.2 1621.8,1149.8 1624.4,1154.2 1627.0,1150.4 1629.6,1152.0 1632.2,1155.5 1634.8,1164.9 1637.4,1182.0 1640.0,1166.9 1642.6,1182.7 1645.2,1183.8 1647.8,1188.1 1650.4,1190.1 1653.0,1175.4 1655.6,1166.3 1658.2,1179.1 1660.8,1180.6 1663.4,1176.7 1666.0,1171.3 1668.6,1179.2 1671.2,1178.4 1673.8,1184.2 1676.4,1188.3 1679.0,1196.0 1681.6,1196.7 1684.2,1191.1 1686.8,1194.6 1689.4,1188.2 1692.0,1195.2 1694.6,1187.6 1697.2,1208.2 1699.8,1201.5 1702.4,1194.0 1705.0,1193.6 1707.6,1200.7 1710.2,1219.1" fill="none" stroke="#e81c1c" stroke-width="2.2" stroke-opacity="0.88" stroke-linejoin="miter" stroke-miterlimit="3"/><rect x="1302.6" y="1900.1" width="417.5" height="286" fill="none" stroke="#5c5c5c" stroke-width="3.8"/><rect x="1288.8" y="1898.0" width="13.2" height="4.3" fill="#4a4a4a"/><rect x="1288.8" y="2183.9" width="13.2" height="4.3" fill="#4a4a4a"/><rect x="1288.8" y="2042.4" width="13.2" height="3.6" fill="#555"/><rect x="1718.0" y="2042.4" width="4.0" height="3.6" fill="#555"/><rect x="1296.0" y="1968.7" width="6.0" height="2.6" fill="#333"/><rect x="1296.0" y="2113.0" width="6.0" height="2.6" fill="#333"/><polyline points="1312.0,2012.1 1314.2,2018.1 1316.4,2017.8 1318.6,2023.0 1320.8,2022.8 1323.0,2040.3 1325.2,2055.8 1327.4,2047.4 1329.6,2045.0 1331.8,2031.0 1334.0,2046.2 1336.2,2062.7 1338.4,2063.1 1340.6,2045.4 1342.8,2051.6 1345.0,2064.0 1347.2,2065.5 1349.4,2045.4 1351.6,2040.4 1353.8,2032.7 1356.0,2048.6 1358.2,2040.8 1360.4,2055.1 1362.6,2037.1 1364.8,2053.3 1367.0,2058.3 1369.2,2056.0 1371.4,2045.1 1373.6,2031.8 1375.8,2033.7 1378.0,2051.3 1380.2,2031.6 1382.4,2081.9 1384.6,2048.7 1386.8,2015.2 1389.0,2044.2 1391.2,2061.7 1393.4,2071.7 1395.6,2036.0 1397.8,2047.5 1400.0,2051.6 1402.2,2057.8 1404.4,2068.0 1406.6,2047.7 1408.8,2045.3 1411.0,2030.1 1413.2,2072.5 1415.4,2059.9 1417.6,2063.0 1419.8,2052.9 1422.0,2030.7 1424.2,2043.4 1426.4,2049.3 1428.6,2046.5 1430.8,2031.8 1433.0,2069.9 1435.2,2056.3 1437.4,2055.0 1439.6,2066.7 1441.8,2061.5 1444.0,2024.9 1446.2,2048.5 1448.4,2038.0 1450.6,2048.3 1452.8,2021.5 1455.0,2054.8 1457.2,2014.3 1459.4,2030.1 1461.6,2058.4 1463.8,2034.3 1466.0,2041.4 1468.2,2059.0 1470.4,2046.0 1472.6,2030.8 1474.8,2048.4 1477.0,2048.6 1479.2,2047.1 1481.4,2026.4 1483.6,2044.2 1485.8,2045.8 1488.0,2025.9 1490.2,2054.5 1492.4,2044.2 1494.6,2036.7 1496.8,2036.6 1499.0,2052.6 1501.2,2018.7 1503.4,2046.6 1505.6,2040.7 1507.8,2037.7 1510.0,2062.9 1512.2,2055.7 1514.4,2046.4 1516.6,2064.2 1518.8,2030.9 1521.0,2050.0 1523.2,2049.3 1525.4,2054.7 1527.6,2054.3 1529.8,2058.1 1532.0,2052.8 1534.2,2049.9 1536.4,2017.9 1538.6,2038.0 1540.8,2037.2 1543.0,2046.9 1545.2,2037.0 1547.4,2055.3 1549.6,2048.0 1551.8,2063.9 1554.0,2058.2 1556.2,2046.4 1558.4,2047.4 1560.6,2041.7 1562.8,2048.5 1565.0,2047.7 1567.2,2044.1 1569.4,2064.7 1571.6,2046.4 1573.8,2031.2 1576.0,2040.1 1578.2,2060.6 1580.4,2045.3 1582.6,2042.4 1584.8,2040.7 1587.0,2061.6 1589.2,2045.5 1591.4,2039.7 1593.6,2025.8 1595.8,2054.8 1598.0,2068.4 1600.2,2046.4 1602.4,2054.4 1604.6,2057.3 1606.8,2044.2 1609.0,2050.4 1611.2,2045.0 1613.4,2028.3 1615.6,2045.5 1617.8,2040.5 1620.0,2039.1 1622.2,2029.9 1624.4,2048.6 1626.6,2006.0 1628.8,2040.1 1631.0,2049.3 1633.2,2068.2 1635.4,2055.5 1637.6,2036.8 1639.8,2053.5 1642.0,2070.6 1644.2,2028.3 1646.4,2052.8 1648.6,2039.4 1650.8,2037.8 1653.0,2048.2 1655.2,2044.9 1657.4,2056.9 1659.6,2068.4 1661.8,2070.4 1664.0,2046.3 1666.2,2055.5 1668.4,2070.7 1670.6,2037.4 1672.8,2046.2 1675.0,2058.6 1677.2,2039.5 1679.4,2039.4 1681.6,2051.2 1683.8,2059.4 1686.0,2049.9 1688.2,2061.6 1690.4,2055.5 1692.6,2053.4 1694.8,2041.4 1697.0,2057.3 1699.2,2038.1 1701.4,2047.1 1703.6,2065.2 1705.8,2039.7" fill="none" stroke="#ff8c8c" stroke-width="4.2" stroke-opacity="0.35" stroke-linejoin="miter"/><polyline points="1312.0,2041.9 1314.2,2034.1 1316.4,2045.6 1318.6,2052.3 1320.8,2036.1 1323.0,2052.3 1325.2,2049.3 1327.4,2051.9 1329.6,2058.5 1331.8,2055.2 1334.0,2048.9 1336.2,2055.9 1338.4,2028.5 1340.6,2038.5 1342.8,2063.6 1345.0,2041.3 1347.2,2041.9 1349.4,2020.5 1351.6,2037.6 1353.8,2067.7 1356.0,2047.3 1358.2,2049.9 1360.4,2063.7 1362.6,2047.4 1364.8,2065.0 1367.0,2049.8 1369.2,2050.1 1371.4,2051.1 1373.6,2039.8 1375.8,2060.2 1378.0,2060.1 1380.2,2058.8 1382.4,2052.4 1384.6,2042.4 1386.8,2057.5 1389.0,2042.5 1391.2,2028.0 1393.4,2053.3 1395.6,2064.8 1397.8,2041.8 1400.0,2040.1 1402.2,2026.5 1404.4,2030.9 1406.6,2053.4 1408.8,2026.9 1411.0,2049.8 1413.2,2059.8 1415.4,2055.4 1417.6,2050.2 1419.8,2051.9 1422.0,2056.8 1424.2,2062.3 1426.4,2085.0 1428.6,2066.5 1430.8,2067.6 1433.0,2054.4 1435.2,2045.3 1437.4,2064.4 1439.6,2053.0 1441.8,2053.1 1444.0,2048.5 1446.2,2031.5 1448.4,2070.1 1450.6,2044.9 1452.8,2031.9 1455.0,2038.9 1457.2,2027.3 1459.4,2053.1 1461.6,2012.9 1463.8,2049.8 1466.0,2065.0 1468.2,2054.2 1470.4,2066.8 1472.6,2041.7 1474.8,2035.4 1477.0,2054.8 1479.2,2040.0 1481.4,2036.8 1483.6,2038.1 1485.8,2059.7 1488.0,2032.7 1490.2,2026.2 1492.4,2071.3 1494.6,2042.6 1496.8,2053.1 1499.0,2036.9 1501.2,2040.3 1503.4,2023.3 1505.6,2042.7 1507.8,2048.9 1510.0,2035.8 1512.2,2051.9 1514.4,2039.3 1516.6,2045.1 1518.8,2047.7 1521.0,2041.0 1523.2,2061.6 1525.4,2058.3 1527.6,2066.7 1529.8,2055.5 1532.0,2062.2 1534.2,2024.7 1536.4,2017.6 1538.6,2031.2 1540.8,2047.8 1543.0,2036.8 1545.2,2029.7 1547.4,2034.5 1549.6,2047.0 1551.8,2050.3 1554.0,2035.3 1556.2,2049.3 1558.4,2044.6 1560.6,2038.0 1562.8,2053.5 1565.0,2065.2 1567.2,2033.1 1569.4,2054.7 1571.6,2039.4 1573.8,2064.7 1576.0,2029.1 1578.2,2040.6 1580.4,2046.6 1582.6,2069.1 1584.8,2031.8 1587.0,2052.1 1589.2,2044.4 1591.4,2029.6 1593.6,2048.5 1595.8,2061.5 1598.0,2002.3 1600.2,2030.4 1602.4,2051.8 1604.6,2045.0 1606.8,2053.7 1609.0,2074.7 1611.2,2041.9 1613.4,2035.1 1615.6,2063.7 1617.8,2057.3 1620.0,2006.0 1622.2,2041.3 1624.4,2039.7 1626.6,2050.2 1628.8,2048.2 1631.0,2044.2 1633.2,2039.8 1635.4,2044.2 1637.6,2033.8 1639.8,2063.5 1642.0,2048.5 1644.2,2047.7 1646.4,2034.5 1648.6,2046.9 1650.8,2040.9 1653.0,2039.1 1655.2,2053.6 1657.4,2066.8 1659.6,2064.0 1661.8,2052.4 1664.0,2046.9 1666.2,2010.2 1668.4,2053.8 1670.6,2049.3 1672.8,2042.5 1675.0,2051.7 1677.2,2054.0 1679.4,2044.1 1681.6,2028.6 1683.8,2076.3 1686.0,2061.5 1688.2,2057.4 1690.4,2048.6 1692.6,2070.3 1694.8,2047.4 1697.0,2058.7 1699.2,2068.4 1701.4,2056.1 1703.6,2052.7 1705.8,2077.2" fill="none" stroke="#141414" stroke-width="1.9" stroke-linejoin="miter" stroke-miterlimit="3"/><polyline points="1312.0,2012.1 1314.2,2018.1 1316.4,2017.8 1318.6,2023.0 1320.8,2022.8 1323.0,2040.3 1325.2,2055.8 1327.4,2047.4 1329.6,2045.0 1331.8,2031.0 1334.0,2046.2 1336.2,2062.7 1338.4,2063.1 1340.6,2045.4 1342.8,2051.6 1345.0,2064.0 1347.2,2065.5 1349.4,2045.4 1351.6,2040.4 1353.8,2032.7 1356.0,2048.6 1358.2,2040.8 1360.4,2055.1 1362.6,2037.1 1364.8,2053.3 1367.0,2058.3 1369.2,2056.0 1371.4,2045.1 1373.6,2031.8 1375.8,2033.7 1378.0,2051.3 1380.2,2031.6 1382.4,2081.9 1384.6,2048.7 1386.8,2015.2 1389.0,2044.2 1391.2,2061.7 1393.4,2071.7 1395.6,2036.0 1397.8,2047.5 1400.0,2051.6 1402.2,2057.8 1404.4,2068.0 1406.6,2047.7 1408.8,2045.3 1411.0,2030.1 1413.2,2072.5 1415.4,2059.9 1417.6,2063.0 1419.8,2052.9 1422.0,2030.7 1424.2,2043.4 1426.4,2049.3 1428.6,2046.5 1430.8,2031.8 1433.0,2069.9 1435.2,2056.3 1437.4,2055.0 1439.6,2066.7 1441.8,2061.5 1444.0,2024.9 1446.2,2048.5 1448.4,2038.0 1450.6,2048.3 1452.8,2021.5 1455.0,2054.8 1457.2,2014.3 1459.4,2030.1 1461.6,2058.4 1463.8,2034.3 1466.0,2041.4 1468.2,2059.0 1470.4,2046.0 1472.6,2030.8 1474.8,2048.4 1477.0,2048.6 1479.2,2047.1 1481.4,2026.4 1483.6,2044.2 1485.8,2045.8 1488.0,2025.9 1490.2,2054.5 1492.4,2044.2 1494.6,2036.7 1496.8,2036.6 1499.0,2052.6 1501.2,2018.7 1503.4,2046.6 1505.6,2040.7 1507.8,2037.7 1510.0,2062.9 1512.2,2055.7 1514.4,2046.4 1516.6,2064.2 1518.8,2030.9 1521.0,2050.0 1523.2,2049.3 1525.4,2054.7 1527.6,2054.3 1529.8,2058.1 1532.0,2052.8 1534.2,2049.9 1536.4,2017.9 1538.6,2038.0 1540.8,2037.2 1543.0,2046.9 1545.2,2037.0 1547.4,2055.3 1549.6,2048.0 1551.8,2063.9 1554.0,2058.2 1556.2,2046.4 1558.4,2047.4 1560.6,2041.7 1562.8,2048.5 1565.0,2047.7 1567.2,2044.1 1569.4,2064.7 1571.6,2046.4 1573.8,2031.2 1576.0,2040.1 1578.2,2060.6 1580.4,2045.3 1582.6,2042.4 1584.8,2040.7 1587.0,2061.6 1589.2,2045.5 1591.4,2039.7 1593.6,2025.8 1595.8,2054.8 1598.0,2068.4 1600.2,2046.4 1602.4,2054.4 1604.6,2057.3 1606.8,2044.2 1609.0,2050.4 1611.2,2045.0 1613.4,2028.3 1615.6,2045.5 1617.8,2040.5 1620.0,2039.1 1622.2,2029.9 1624.4,2048.6 1626.6,2006.0 1628.8,2040.1 1631.0,2049.3 1633.2,2068.2 1635.4,2055.5 1637.6,2036.8 1639.8,2053.5 1642.0,2070.6 1644.2,2028.3 1646.4,2052.8 1648.6,2039.4 1650.8,2037.8 1653.0,2048.2 1655.2,2044.9 1657.4,2056.9 1659.6,2068.4 1661.8,2070.4 1664.0,2046.3 1666.2,2055.5 1668.4,2070.7 1670.6,2037.4 1672.8,2046.2 1675.0,2058.6 1677.2,2039.5 1679.4,2039.4 1681.6,2051.2 1683.8,2059.4 1686.0,2049.9 1688.2,2061.6 1690.4,2055.5 1692.6,2053.4 1694.8,2041.4 1697.0,2057.3 1699.2,2038.1 1701.4,2047.1 1703.6,2065.2 1705.8,2039.7" fill="none" stroke="#e81c1c" stroke-width="2.2" stroke-opacity="0.88" stroke-linejoin="miter" stroke-miterlimit="3"/><rect x="1275.0" y="567.4" width="71.5" height="3.2" fill="#111"/><rect x="1275.0" y="655.2" width="71.8" height="3.6" fill="#b01818"/><rect x="1314.4" y="1346.6" width="62.4" height="4.2" fill="#303030"/><rect x="1314.4" y="1424.9" width="62.4" height="4.6" fill="#d0101a"/><rect x="1273.2" y="2256.0" width="64.2" height="4.0" fill="#111"/><rect x="1273.2" y="2334.8" width="64.2" height="4.8" fill="#c04050"/>
<text class="b" x="460.5" y="65.3" font-size="32.5" fill="#000" textLength="34.2" lengthAdjust="spacingAndGlyphs">L2</text><text class="b" x="59.4" y="469.1" font-size="32.7" fill="#000" textLength="26.2" lengthAdjust="spacingAndGlyphs">L1</text><text class="b" x="1014.4" y="93.1" font-size="31.4" fill="#000" textLength="23.2" lengthAdjust="spacingAndGlyphs">C</text><text class="b g" x="997.4" y="88.6" font-size="29.2" fill="#888" textLength="11.6" lengthAdjust="spacingAndGlyphs" style="stroke:#888">&#176;</text><text class="s" x="1010.8" y="149.8" font-size="28.6" fill="#404040" textLength="33.0" lengthAdjust="spacingAndGlyphs" stroke="#404040">32</text><text class="s" x="1010.8" y="321.0" font-size="25.0" fill="#404040" textLength="33.0" lengthAdjust="spacingAndGlyphs" stroke="#404040">31</text><text class="s" x="1010.8" y="497.5" font-size="25.1" fill="#404040" textLength="33.0" lengthAdjust="spacingAndGlyphs" stroke="#404040">30</text><text class="s" x="1010.8" y="671.0" font-size="25.1" fill="#404040" textLength="33.0" lengthAdjust="spacingAndGlyphs" stroke="#404040">29</text><text class="s" x="1010.8" y="843.7" font-size="24.0" fill="#404040" textLength="33.0" lengthAdjust="spacingAndGlyphs" stroke="#404040">28</text><text class="b" x="1202.2" y="94.6" font-size="35.7" fill="#000" textLength="24.4" lengthAdjust="spacingAndGlyphs">C</text><text class="b g" x="1187.6" y="92.2" font-size="36.0" fill="#888" textLength="10.8" lengthAdjust="spacingAndGlyphs" style="stroke:#888">&#176;</text><text class="b" x="1196.4" y="170.2" font-size="30.6" fill="#000" textLength="40.4" lengthAdjust="spacingAndGlyphs">32</text><text class="b" x="1198.0" y="316.4" font-size="33.2" fill="#000" textLength="40.6" lengthAdjust="spacingAndGlyphs">30</text><text class="b" x="1198.0" y="448.0" font-size="30.7" fill="#000" textLength="40.6" lengthAdjust="spacingAndGlyphs">28</text><text class="b" x="1209.7" y="586.1" font-size="35.2" fill="#000" textLength="29.1" lengthAdjust="spacingAndGlyphs">L1</text><text class="b" x="1209.7" y="673.0" font-size="33.5" fill="#000" textLength="33.5" lengthAdjust="spacingAndGlyphs">L2</text><text class="r" x="1593.2" y="780.0" font-size="94.0" fill="#000" textLength="109.0" lengthAdjust="spacingAndGlyphs">(a)</text><text class="b" x="438.1" y="937.0" font-size="33.2" fill="#000" textLength="30.7" lengthAdjust="spacingAndGlyphs">L2</text><text class="b" x="54.1" y="1302.6" font-size="31.3" fill="#000" textLength="27.0" lengthAdjust="spacingAndGlyphs">L1</text><text class="b" x="967.0" y="967.6" font-size="31.5" fill="#000" textLength="19.3" lengthAdjust="spacingAndGlyphs">C</text><text class="b g" x="952.3" y="966.7" font-size="32.9" fill="#888" textLength="9.9" lengthAdjust="spacingAndGlyphs" style="stroke:#888">&#176;</text><text class="s" x="966.0" y="1088.5" font-size="24.0" fill="#404040" textLength="30.8" lengthAdjust="spacingAndGlyphs" stroke="#404040">29</text><text class="s" x="966.0" y="1222.6" font-size="24.2" fill="#404040" textLength="30.8" lengthAdjust="spacingAndGlyphs" stroke="#404040">28</text><text class="s" x="966.0" y="1354.4" font-size="25.0" fill="#404040" textLength="30.8" lengthAdjust="spacingAndGlyphs" stroke="#404040">27</text><text class="s" x="966.0" y="1486.1" font-size="26.3" fill="#404040" textLength="30.8" lengthAdjust="spacingAndGlyphs" stroke="#404040">26</text><text class="s" x="966.0" y="1620.3" font-size="26.1" fill="#404040" textLength="30.8" lengthAdjust="spacingAndGlyphs" stroke="#404040">25</text><text class="b" x="1243.3" y="954.4" font-size="25.8" fill="#000" textLength="20.8" lengthAdjust="spacingAndGlyphs">C</text><text class="b g" x="1230.3" y="954.1" font-size="29.8" fill="#888" textLength="8.9" lengthAdjust="spacingAndGlyphs" style="stroke:#888">&#176;</text><text class="b" x="1244.0" y="1017.0" font-size="31.4" fill="#000" textLength="36.0" lengthAdjust="spacingAndGlyphs">30</text><text class="b" x="1244.0" y="1103.7" font-size="26.7" fill="#000" textLength="36.0" lengthAdjust="spacingAndGlyphs">28</text><text class="b" x="1240.6" y="1199.0" font-size="29.1" fill="#000" textLength="34.9" lengthAdjust="spacingAndGlyphs">26</text><text class="b" x="1258.0" y="1364.2" font-size="31.7" fill="#000" textLength="24.7" lengthAdjust="spacingAndGlyphs">L1</text><text class="b" x="1258.0" y="1440.4" font-size="30.7" fill="#000" textLength="28.5" lengthAdjust="spacingAndGlyphs">L2</text><text class="r" x="1551.0" y="1617.0" font-size="94.0" fill="#000" textLength="114.2" lengthAdjust="spacingAndGlyphs">(b)</text><text class="b" x="480.2" y="1781.6" font-size="31.7" fill="#000" textLength="30.7" lengthAdjust="spacingAndGlyphs">L2</text><text class="b" x="60.2" y="2195.4" font-size="32.3" fill="#000" textLength="24.7" lengthAdjust="spacingAndGlyphs">L1</text><text class="b" x="1058.8" y="1846.1" font-size="29.9" fill="#000" textLength="22.1" lengthAdjust="spacingAndGlyphs">C</text><text class="b g" x="1045.5" y="1843.3" font-size="32.9" fill="#888" textLength="8.2" lengthAdjust="spacingAndGlyphs" style="stroke:#888">&#176;</text><text class="s" x="1047.2" y="1964.7" font-size="28.4" fill="#505050" textLength="35.6" lengthAdjust="spacingAndGlyphs" stroke="#505050">31</text><text class="s" x="1048.0" y="2116.7" font-size="27.5" fill="#606060" textLength="34.2" lengthAdjust="spacingAndGlyphs" stroke="#606060">3C</text><text class="s" x="1048.1" y="2270.6" font-size="27.0" fill="#606060" textLength="34.1" lengthAdjust="spacingAndGlyphs" stroke="#606060">2E</text><text class="s" x="1048.1" y="2428.7" font-size="30.3" fill="#606060" textLength="34.1" lengthAdjust="spacingAndGlyphs" stroke="#606060">2E</text><text class="b" x="1084.5" y="2117.1" font-size="40.0" fill="#888" textLength="6.5" lengthAdjust="spacingAndGlyphs" style="stroke:#999;stroke-width:0.5px">'</text><text class="b" x="1084.5" y="2272.1" font-size="40.0" fill="#888" textLength="6.5" lengthAdjust="spacingAndGlyphs" style="stroke:#999;stroke-width:0.5px">'</text><text class="b" x="1084.5" y="2427.6" font-size="40.0" fill="#888" textLength="6.5" lengthAdjust="spacingAndGlyphs" style="stroke:#999;stroke-width:0.5px">'</text><text class="b" x="1202.0" y="1847.2" font-size="25.7" fill="#000" textLength="21.0" lengthAdjust="spacingAndGlyphs">C</text><text class="b g" x="1189.2" y="1847.3" font-size="31.7" fill="#888" textLength="9.1" lengthAdjust="spacingAndGlyphs" style="stroke:#888">&#176;</text><text class="b" x="1216.5" y="1922.4" font-size="28.1" fill="#000" textLength="34.9" lengthAdjust="spacingAndGlyphs">30</text><text class="b" x="1212.0" y="2054.0" font-size="30.7" fill="#000" textLength="35.8" lengthAdjust="spacingAndGlyphs">28</text><text class="b" x="1212.0" y="2185.6" font-size="28.1" fill="#000" textLength="35.8" lengthAdjust="spacingAndGlyphs">26</text><text class="b" x="1216.1" y="2273.5" font-size="31.7" fill="#000" textLength="26.6" lengthAdjust="spacingAndGlyphs">L1</text><text class="b" x="1216.1" y="2352.9" font-size="34.4" fill="#000" textLength="30.4" lengthAdjust="spacingAndGlyphs">L2</text><text class="r" x="1577.0" y="2441.5" font-size="94.0" fill="#000" textLength="108.6" lengthAdjust="spacingAndGlyphs">(c)</text></svg>
</body></html>
